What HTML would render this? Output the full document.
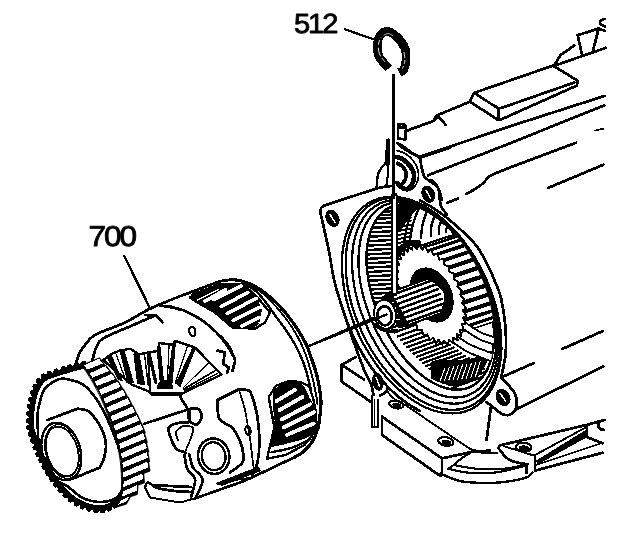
<!DOCTYPE html>
<html><head><meta charset="utf-8"><title>diagram</title>
<style>html,body{margin:0;padding:0;background:#fff}svg{display:block}text{font-family:"Liberation Sans",sans-serif;fill:#000}</style>
</head><body>
<svg width="640" height="538" viewBox="0 0 640 538" stroke-linecap="round" stroke-linejoin="round" shape-rendering="crispEdges">
<rect width="640" height="538" fill="#fff"/>
<g opacity="0.999" shape-rendering="geometricPrecision" text-rendering="geometricPrecision"><text x="0" y="0" font-size="26.5" stroke="#000" stroke-width="0.8" transform="translate(294.0,33.0) scale(1.1,1.045)" letter-spacing="-1.9">512</text>
<text x="0" y="0" font-size="27.5" stroke="#000" stroke-width="0.8" transform="translate(88.6,245.6) scale(1.15,1.045)" letter-spacing="-1.9">700</text></g>
<path d="M345.0 29.4 L373.0 39.0" fill="none" stroke="#000" stroke-width="2.28"/>
<path d="M124.5 256.3 L150.0 308.5" fill="none" stroke="#000" stroke-width="2.52"/>
<path d="M309.0 346.0 L380.0 315.0" fill="none" stroke="#000" stroke-width="2.40"/>
<path d="M393.3 75.0 L393.3 196.0" fill="none" stroke="#000" stroke-width="3.12"/>
<path d="M388.6 68.5 C387.7 67.4 384.7 64.2 383.0 62.0 C381.3 59.8 379.3 58.4 378.4 55.3 C377.5 52.2 377.4 46.8 377.6 43.6 C377.8 40.4 378.3 38.0 379.8 36.0 C381.3 34.0 383.9 31.3 386.7 31.4 C389.5 31.5 393.4 33.7 396.4 36.5 C399.4 39.3 403.3 44.2 404.9 48.2 C406.5 52.2 406.2 56.9 406.0 60.5 C405.8 64.1 404.6 68.0 403.5 70.0 C402.4 72.0 400.0 72.1 399.3 72.5" fill="none" stroke="#000" stroke-width="8.8" stroke-linecap="butt"/>
<path d="M385.0 62.0 C384.1 60.7 380.6 57.0 379.5 54.0 C378.4 51.0 378.2 46.8 378.5 44.0 C378.8 41.2 380.6 38.6 381.0 37.5" fill="none" stroke="#fff" stroke-width="0.9" stroke-dasharray="5 2 9 3" stroke-linecap="butt"/>
<path d="M404.0 52.0 C404.1 53.5 405.1 58.2 404.8 61.0 C404.6 63.8 402.9 67.2 402.5 68.5" fill="none" stroke="#fff" stroke-width="0.9" stroke-dasharray="6 2 4 2" stroke-linecap="butt"/>
<path d="M383.5 35.5 C384.2 35.2 386.4 33.5 388.0 33.5 C389.6 33.5 392.2 35.4 393.0 35.8" fill="none" stroke="#fff" stroke-width="0.7" stroke-linecap="butt"/>
<path d="M398.0 126.5 L398.0 138.5 L405.5 139.5 L406.0 127.5 Z" fill="none" stroke="#000" stroke-width="2.76" />
<path d="M406.1 126.7 L406.1 126.9 L406.0 127.0 L405.9 127.2 L405.8 127.3 L405.6 127.4 L405.4 127.5 L405.2 127.6 L405.0 127.7 L404.7 127.8 L404.4 127.8 L404.1 127.9 L403.8 127.9 L403.5 127.9 L403.1 127.9 L402.8 127.9 L402.4 127.9 L402.0 127.8 L401.7 127.8 L401.3 127.7 L401.0 127.6 L400.6 127.5 L400.3 127.4 L400.0 127.3 L399.7 127.2 L399.4 127.0 L399.1 126.9 L398.9 126.7 L398.6 126.6 L398.4 126.4 L398.3 126.3 L398.1 126.1 L398.0 125.9 L397.9 125.8 L397.9 125.6 L397.9 125.4 L397.9 125.3 L397.9 125.1 L398.0 125.0 L398.1 124.8 L398.2 124.7 L398.4 124.6 L398.6 124.5 L398.8 124.4 L399.0 124.3 L399.3 124.2 L399.6 124.2 L399.9 124.1 L400.2 124.1 L400.5 124.1 L400.9 124.1 L401.2 124.1 L401.6 124.1 L402.0 124.2 L402.3 124.2 L402.7 124.3 L403.0 124.4 L403.4 124.5 L403.7 124.6 L404.0 124.7 L404.3 124.8 L404.6 125.0 L404.9 125.1 L405.1 125.3 L405.4 125.4 L405.6 125.6 L405.7 125.7 L405.9 125.9 L406.0 126.1 L406.1 126.2 L406.1 126.4 L406.1 126.6 L406.1 126.7 Z" fill="none" stroke="#000" stroke-width="2.76" />
<path d="M407.0 130.6 L433.4 121.0 L436.5 115.6 L468.0 102.5" fill="none" stroke="#000" stroke-width="2.76" />
<path d="M433.4 121.0 L438.0 117.0 L442.0 120.0 L445.6 125.0" fill="none" stroke="#000" stroke-width="2.76" />
<path d="M469.7 101.6 L474.4 92.8 L553.0 65.6 L577.5 80.6 L577.0 85.5 L501.0 119.5 L497.8 119.7 L469.7 101.6" fill="none" stroke="#000" stroke-width="2.76" />
<path d="M474.4 92.8 L492.0 104.5 L499.0 108.5 L507.0 106.0 L574.4 82.5" fill="none" stroke="#000" stroke-width="2.76" />
<path d="M498.4 110.0 L498.4 118.5" fill="none" stroke="#000" stroke-width="2.76"/>
<path d="M553.7 66.0 L605.9 47.8" fill="none" stroke="#000" stroke-width="2.76" />
<path d="M554.7 64.7 L560.3 55.3 L574.4 45.4" fill="none" stroke="#000" stroke-width="2.76" />
<path d="M577.7 35.2 L581.9 54.4" fill="none" stroke="#000" stroke-width="2.76" />
<path d="M577.7 35.2 L598.7 28.5" fill="none" stroke="#000" stroke-width="2.76" />
<path d="M598.7 28.5 L593.0 50.6" fill="none" stroke="#000" stroke-width="2.76" />
<path d="M604.5 19.0 C603.9 19.2 601.7 19.7 601.0 20.5 C600.3 21.3 599.8 23.0 600.5 24.0 C601.2 25.0 604.2 26.1 605.0 26.5" fill="none" stroke="#000" stroke-width="2.76"/>
<path d="M600.0 29.0 L605.0 31.0" fill="none" stroke="#000" stroke-width="2.76"/>
<path d="M397.8 143.7 C399.2 144.8 402.4 147.8 406.0 150.0 C409.6 152.2 417.2 155.8 419.4 156.9" fill="none" stroke="#000" stroke-width="2.76"/>
<path d="M419.4 156.9 L514.0 125.0 L604.4 96.0" fill="none" stroke="#000" stroke-width="2.76" />
<path d="M428.0 175.3 L510.0 143.3 L604.4 105.3" fill="none" stroke="#000" stroke-width="2.76" />
<path d="M595.0 130.6 L603.4 128.7" fill="none" stroke="#000" stroke-width="1.68"/>
<path d="M466.2 194.0 C467.8 193.1 473.1 190.3 476.0 188.5 C478.9 186.7 481.4 184.8 483.4 183.0 C485.4 181.2 486.4 178.9 488.0 177.5 C489.6 176.1 489.3 176.2 493.0 174.5 C496.7 172.8 507.2 168.7 510.0 167.5" fill="none" stroke="#000" stroke-width="2.76"/>
<path d="M510.0 167.5 L576.0 142.8" fill="none" stroke="#000" stroke-width="2.76" />
<path d="M447.0 203.0 L458.0 198.6" fill="none" stroke="#000" stroke-width="2.76"/>
<path d="M548.0 188.0 L603.4 164.7" fill="none" stroke="#000" stroke-width="2.76" />
<path d="M562.2 349.0 L602.5 331.2" fill="none" stroke="#000" stroke-width="2.76" />
<path d="M504.0 376.2 L534.0 363.0" fill="none" stroke="#000" stroke-width="2.76" />
<path d="M515.5 409.5 L603.4 366.5" fill="none" stroke="#000" stroke-width="2.76" />
<path d="M386.6 165.0 L386.6 140.0 L388.6 139.0 L388.6 165.0" fill="none" stroke="#000" stroke-width="1.80" />
<path d="M470.7 409.3 L465.1 411.5 L459.1 412.9 L452.8 413.4 L446.3 413.2 L439.6 412.1 L432.7 410.2 L425.8 407.5 L418.9 404.0 L411.9 399.7 L405.1 394.8 L398.3 389.1 L391.8 382.8 L385.4 376.0 L379.4 368.6 L373.7 360.7 L368.3 352.3 L363.3 343.7 L358.8 334.7 L354.8 325.5 L351.3 316.1 L348.3 306.7 L345.8 297.3 L344.0 287.9 L342.7 278.6 L342.1 269.6 L342.0 260.8 L342.5 252.3 L343.7 244.3 L345.5 236.7 L347.8 229.6 L350.7 223.1 L354.1 217.3 L358.0 212.1 L362.5 207.6 L367.4 203.8 L372.7 200.9 L378.3 198.7 L384.3 197.3 L390.6 196.8 L397.1 197.0 L403.8 198.1 L410.7 200.0 L417.6 202.7 L424.5 206.2 L431.5 210.5 L438.3 215.4 L445.1 221.1 L451.6 227.4 L458.0 234.2 L464.0 241.6 L469.7 249.5 L475.1 257.9 L480.1 266.5 L484.6 275.5 L488.6 284.7 L492.1 294.1 L495.1 303.5 L497.6 312.9 L499.4 322.3 L500.7 331.6 L501.3 340.6 L501.4 349.4 L500.9 357.9 L499.7 365.9 L497.9 373.5 L495.6 380.6 L492.7 387.1 L489.3 392.9 L485.4 398.1 L480.9 402.6 L476.0 406.4 L470.7 409.3 Z" fill="none" stroke="#000" stroke-width="2.28" />
<path d="M470.6 406.0 L465.1 408.1 L459.3 409.4 L453.2 409.9 L446.9 409.6 L440.4 408.5 L433.7 406.5 L427.0 403.8 L420.3 400.4 L413.5 396.2 L406.9 391.3 L400.3 385.7 L394.0 379.6 L387.8 372.8 L382.0 365.5 L376.4 357.8 L371.2 349.6 L366.4 341.1 L362.0 332.3 L358.1 323.3 L354.7 314.2 L351.8 304.9 L349.4 295.7 L347.6 286.5 L346.4 277.5 L345.7 268.6 L345.7 260.0 L346.2 251.8 L347.3 243.9 L349.0 236.5 L351.3 229.7 L354.1 223.4 L357.4 217.7 L361.2 212.6 L365.5 208.3 L370.3 204.6 L375.4 201.8 L380.9 199.7 L386.7 198.4 L392.8 197.9 L399.1 198.2 L405.6 199.3 L412.3 201.3 L419.0 204.0 L425.7 207.4 L432.4 211.6 L439.1 216.5 L445.6 222.1 L452.0 228.2 L458.1 235.0 L464.0 242.3 L469.6 250.0 L474.8 258.2 L479.6 266.7 L484.0 275.5 L487.9 284.5 L491.3 293.6 L494.2 302.9 L496.6 312.1 L498.4 321.3 L499.6 330.3 L500.2 339.2 L500.3 347.8 L499.8 356.0 L498.6 363.9 L496.9 371.3 L494.7 378.1 L491.9 384.4 L488.6 390.1 L484.7 395.2 L480.5 399.5 L475.7 403.2 L470.6 406.0 Z" fill="none" stroke="#000" stroke-width="2.28" />
<path d="M470.3 400.2 L465.1 402.2 L459.6 403.3 L453.9 403.7 L447.9 403.3 L441.8 402.2 L435.5 400.3 L429.1 397.6 L422.7 394.2 L416.4 390.1 L410.1 385.3 L403.9 379.9 L397.9 373.9 L392.1 367.4 L386.5 360.3 L381.2 352.8 L376.3 344.9 L371.8 336.7 L367.6 328.2 L363.9 319.6 L360.6 310.7 L357.9 301.9 L355.6 293.0 L353.9 284.2 L352.8 275.5 L352.1 267.0 L352.1 258.8 L352.6 250.9 L353.6 243.4 L355.2 236.3 L357.3 229.8 L360.0 223.8 L363.1 218.4 L366.7 213.6 L370.8 209.5 L375.3 206.1 L380.1 203.4 L385.3 201.5 L390.8 200.3 L396.6 199.9 L402.5 200.3 L408.7 201.5 L415.0 203.4 L421.3 206.0 L427.7 209.4 L434.1 213.5 L440.4 218.3 L446.6 223.7 L452.6 229.7 L458.4 236.3 L463.9 243.3 L469.2 250.8 L474.1 258.7 L478.7 266.9 L482.9 275.4 L486.6 284.1 L489.8 292.9 L492.6 301.8 L494.8 310.7 L496.5 319.5 L497.7 328.2 L498.3 336.6 L498.4 344.9 L497.9 352.7 L496.8 360.2 L495.2 367.3 L493.1 373.8 L490.5 379.9 L487.3 385.3 L483.7 390.1 L479.7 394.2 L475.2 397.6 L470.3 400.2 Z" fill="none" stroke="#000" stroke-width="2.28" />
<path d="M470.1 394.4 L465.3 396.2 L460.1 397.3 L454.6 397.5 L449.0 397.1 L443.2 395.9 L437.3 394.0 L431.3 391.3 L425.3 388.0 L419.3 384.0 L413.3 379.3 L407.5 374.1 L401.8 368.3 L396.3 361.9 L391.1 355.1 L386.1 347.9 L381.4 340.3 L377.1 332.4 L373.2 324.2 L369.7 315.8 L366.6 307.4 L364.0 298.9 L361.9 290.3 L360.2 281.9 L359.1 273.6 L358.5 265.5 L358.5 257.6 L358.9 250.1 L359.9 242.9 L361.4 236.2 L363.4 230.0 L365.8 224.2 L368.8 219.1 L372.2 214.6 L376.0 210.7 L380.2 207.5 L384.8 205.0 L389.7 203.3 L394.8 202.2 L400.3 201.9 L405.9 202.4 L411.7 203.6 L417.6 205.5 L423.6 208.1 L429.6 211.5 L435.6 215.5 L441.6 220.1 L447.4 225.4 L453.1 231.2 L458.6 237.6 L463.9 244.4 L468.8 251.6 L473.5 259.2 L477.8 267.1 L481.7 275.3 L485.2 283.6 L488.3 292.1 L490.9 300.6 L493.0 309.1 L494.7 317.6 L495.8 325.9 L496.4 334.0 L496.5 341.9 L496.0 349.4 L495.0 356.6 L493.5 363.3 L491.6 369.5 L489.1 375.2 L486.1 380.4 L482.7 384.9 L478.9 388.8 L474.7 392.0 L470.1 394.4 Z" fill="none" stroke="#000" stroke-width="2.28" />
<path d="M470.0 387.0 L465.5 388.6 L460.7 389.5 L455.7 389.7 L450.5 389.2 L445.1 387.9 L439.7 386.0 L434.1 383.4 L428.6 380.2 L423.0 376.3 L417.5 371.8 L412.1 366.7 L406.9 361.2 L401.8 355.1 L396.9 348.6 L392.3 341.7 L388.0 334.4 L384.0 326.9 L380.3 319.1 L377.1 311.2 L374.2 303.2 L371.8 295.1 L369.8 287.0 L368.3 279.1 L367.2 271.2 L366.6 263.6 L366.5 256.2 L366.9 249.1 L367.8 242.4 L369.2 236.1 L371.0 230.2 L373.2 224.9 L375.9 220.1 L379.1 215.9 L382.6 212.4 L386.4 209.4 L390.6 207.2 L395.1 205.6 L399.9 204.7 L404.9 204.5 L410.1 205.0 L415.5 206.3 L420.9 208.2 L426.5 210.8 L432.0 214.0 L437.6 217.9 L443.1 222.4 L448.5 227.5 L453.7 233.0 L458.8 239.1 L463.7 245.6 L468.3 252.5 L472.6 259.8 L476.6 267.3 L480.3 275.1 L483.5 283.0 L486.4 291.0 L488.8 299.1 L490.8 307.2 L492.3 315.1 L493.4 323.0 L494.0 330.6 L494.1 338.0 L493.7 345.1 L492.8 351.8 L491.4 358.1 L489.6 364.0 L487.4 369.3 L484.7 374.1 L481.5 378.3 L478.0 381.8 L474.2 384.8 L470.0 387.0 Z" fill="none" stroke="#000" stroke-width="2.52" />
<path d="M420.0 200.4 C423.1 202.3 432.4 207.2 438.6 211.6 C444.8 215.9 451.0 220.9 457.2 226.5 C463.4 232.1 470.8 238.8 475.8 245.0 C480.8 251.2 483.9 257.8 487.0 263.6 C490.1 269.4 492.0 274.3 494.3 280.0 C496.6 285.7 499.2 290.3 501.0 297.9 C502.8 305.5 504.5 316.4 505.3 325.7 C506.1 335.0 506.3 344.9 505.6 353.6 C504.9 362.3 501.8 373.9 501.0 378.0" fill="none" stroke="#000" stroke-width="2.76"/>
<path d="M419.7 410.7 L418.5 410.1 L417.3 409.5 L416.2 408.9 L415.0 408.2 L413.8 407.5 L412.6 406.8 L411.4 406.1 L410.2 405.3 L409.0 404.6 L407.9 403.8 L406.7 403.0 L405.5 402.1 L404.3 401.3 L403.2 400.4 L402.0 399.5 L400.8 398.6 L399.7 397.7 L398.5 396.8 L397.4 395.8 L396.2 394.8 L395.1 393.8 L394.0 392.8 L392.8 391.8 L391.7 390.7 L390.6 389.7 L389.5 388.6 L388.4 387.5 L387.3 386.4 L386.2 385.2 L385.1 384.1 L384.0 382.9 L382.9 381.8 L381.9 380.6 L380.8 379.4 L379.8 378.1 L378.7 376.9 L377.7 375.6 L376.7 374.4 L375.7 373.1 L374.6 371.8 L373.6 370.5 L372.7 369.2 L371.7 367.8 L370.7 366.5 L369.8 365.1 L368.8 363.7 L367.9 362.4 L367.0 361.0 L366.0 359.6 L365.1 358.2 L364.2 356.7 L363.4 355.3 L362.5 353.8 L361.6 352.4 L360.8 350.9 L359.9 349.4 L359.1 348.0 L358.3 346.5 L357.5 345.0 L356.7 343.5 L356.0 342.0 L355.2 340.4 L354.5 338.9 L353.7 337.4 L353.0 335.8 L352.3 334.3 L351.6 332.7 L350.9 331.2 L350.3 329.6 L349.6 328.0 L349.0 326.5 L348.4 324.9" fill="none" stroke="#000" stroke-width="2.76" />
<path d="M392.0 186.0 C391.0 186.1 388.6 186.2 386.0 186.6 C383.4 187.0 378.1 188.2 376.5 188.5" fill="none" stroke="#000" stroke-width="2.76"/>
<path d="M376.5 188.5 L324.8 205.3" fill="none" stroke="#000" stroke-width="2.76" />
<path d="M324.8 205.3 C324.2 205.7 321.9 206.5 321.2 207.8 C320.5 209.1 320.6 212.1 320.5 213.0" fill="none" stroke="#000" stroke-width="2.76"/>
<path d="M320.5 213.0 C321.9 219.2 326.4 238.6 328.7 250.0 C331.0 261.4 332.1 271.6 334.5 281.6 C336.9 291.6 340.6 302.3 343.0 310.0 C345.4 317.7 346.7 321.3 349.0 328.0 C351.3 334.7 353.9 342.7 356.6 350.0 C359.3 357.3 362.6 366.3 365.0 372.0 C367.4 377.7 369.6 380.2 371.0 384.0 C372.4 387.8 373.1 393.2 373.5 395.0" fill="none" stroke="#000" stroke-width="2.76"/>
<path d="M376.5 188.5 C376.6 187.1 376.9 182.6 377.2 180.0 C377.5 177.4 377.7 175.2 378.5 173.0 C379.3 170.8 380.8 168.7 382.0 167.0 C383.2 165.3 384.7 165.8 385.5 163.0 C386.3 160.2 386.4 152.2 386.6 150.0" fill="none" stroke="#000" stroke-width="2.40"/>
<path d="M388.5 163.0 C388.4 165.0 388.2 171.1 387.8 175.0 C387.4 178.9 386.6 184.6 386.3 186.5" fill="none" stroke="#000" stroke-width="2.16"/>
<path d="M431.0 180.0 C431.8 180.7 434.2 182.4 435.5 184.0 C436.8 185.6 437.9 187.1 438.6 189.3 C439.3 191.5 439.3 194.6 439.6 197.0 C439.9 199.4 439.8 201.9 440.4 204.0 C441.0 206.1 441.9 207.8 443.0 209.5 C444.1 211.2 446.3 213.7 447.0 214.5" fill="none" stroke="#000" stroke-width="2.76"/>
<path d="M501.0 378.0 C502.2 379.1 505.7 382.1 508.0 384.7 C510.3 387.3 513.3 390.5 514.8 393.4 C516.3 396.3 516.7 399.3 516.8 402.0 C516.9 404.7 516.7 407.4 515.5 409.5 C514.3 411.6 511.6 414.1 509.4 414.8 C507.1 415.6 504.2 414.9 502.0 414.0 C499.8 413.1 498.0 411.0 496.0 409.5 C494.0 408.0 491.7 406.1 490.0 404.8 C488.3 403.6 486.7 402.5 486.0 402.0" fill="none" stroke="#000" stroke-width="2.76"/>
<path d="M385.0 383.7 C385.4 384.2 387.2 385.9 387.5 387.0 C387.8 388.1 387.6 389.4 387.0 390.5 C386.4 391.6 385.2 392.7 384.0 393.5 C382.8 394.3 380.7 395.2 380.0 395.5" fill="none" stroke="#000" stroke-width="2.76"/>
<path d="M335.9 226.1 L334.9 226.4 L333.8 226.4 L332.7 226.3 L331.6 225.8 L330.5 225.2 L329.5 224.4 L328.5 223.3 L327.7 222.1 L327.0 220.8 L326.5 219.5 L326.2 218.1 L326.0 216.7 L326.1 215.3 L326.4 214.1 L326.8 213.0 L327.4 212.0 L328.2 211.3 L329.1 210.7 L330.1 210.4 L331.2 210.4 L332.3 210.5 L333.4 211.0 L334.5 211.6 L335.5 212.4 L336.5 213.5 L337.3 214.7 L338.0 216.0 L338.5 217.3 L338.8 218.7 L339.0 220.1 L338.9 221.5 L338.6 222.7 L338.2 223.8 L337.6 224.8 L336.8 225.5 L335.9 226.1 Z" fill="#000" stroke="#000" stroke-width="1.20" />
<path d="M329.7 214.0 L335.3 222.8" fill="none" stroke="#fff" stroke-width="1.5" stroke-linecap="butt"/>
<path d="M431.4 201.8 L430.4 202.1 L429.3 202.1 L428.2 201.9 L427.1 201.5 L426.0 200.8 L425.0 199.9 L424.1 198.9 L423.4 197.7 L422.7 196.4 L422.3 195.1 L422.0 193.7 L421.9 192.3 L422.1 191.0 L422.4 189.8 L422.9 188.7 L423.5 187.8 L424.3 187.1 L425.2 186.6 L426.2 186.3 L427.3 186.3 L428.4 186.5 L429.5 186.9 L430.6 187.6 L431.6 188.5 L432.5 189.5 L433.2 190.7 L433.9 192.0 L434.3 193.3 L434.6 194.7 L434.7 196.1 L434.5 197.4 L434.2 198.6 L433.7 199.7 L433.1 200.6 L432.3 201.3 L431.4 201.8 Z" fill="#000" stroke="#000" stroke-width="1.20" />
<path d="M425.8 189.8 L430.8 198.6" fill="none" stroke="#fff" stroke-width="1.5" stroke-linecap="butt"/>
<path d="M506.9 404.8 L505.9 405.2 L504.8 405.4 L503.6 405.3 L502.4 405.0 L501.2 404.5 L500.1 403.7 L499.0 402.8 L498.1 401.6 L497.3 400.4 L496.8 399.1 L496.3 397.7 L496.1 396.3 L496.1 394.9 L496.3 393.6 L496.8 392.5 L497.4 391.5 L498.1 390.6 L499.1 390.0 L500.1 389.6 L501.2 389.4 L502.4 389.5 L503.6 389.8 L504.8 390.3 L505.9 391.1 L507.0 392.0 L507.9 393.2 L508.7 394.4 L509.2 395.7 L509.7 397.1 L509.9 398.5 L509.9 399.9 L509.7 401.2 L509.2 402.3 L508.6 403.3 L507.9 404.2 L506.9 404.8 Z" fill="#000" stroke="#000" stroke-width="1.20" />
<path d="M499.9 393.2 L506.1 401.6" fill="none" stroke="#fff" stroke-width="1.5" stroke-linecap="butt"/>
<path d="M379.5 390.0 L378.7 390.1 L377.8 389.9 L376.9 389.4 L376.0 388.8 L375.2 387.9 L374.4 386.8 L373.8 385.6 L373.3 384.3 L372.9 382.8 L372.7 381.4 L372.6 380.0 L372.7 378.6 L372.9 377.3 L373.3 376.2 L373.8 375.2 L374.5 374.4 L375.2 373.9 L376.1 373.6 L376.9 373.5 L377.8 373.7 L378.7 374.2 L379.6 374.8 L380.4 375.7 L381.2 376.8 L381.8 378.0 L382.3 379.3 L382.7 380.8 L382.9 382.2 L383.0 383.6 L382.9 385.0 L382.7 386.3 L382.3 387.4 L381.8 388.4 L381.1 389.2 L380.4 389.7 L379.5 390.0 Z" fill="#000" stroke="#000" stroke-width="1.20" />
<path d="M376.0 376.9 L379.6 386.7" fill="none" stroke="#fff" stroke-width="1.5" stroke-linecap="butt"/>
<defs><clipPath id="cT"><path d="M470.0 387.0 L465.5 388.6 L460.7 389.5 L455.7 389.7 L450.5 389.2 L445.1 387.9 L439.7 386.0 L434.1 383.4 L428.6 380.2 L423.0 376.3 L417.5 371.8 L412.1 366.7 L406.9 361.2 L401.8 355.1 L396.9 348.6 L392.3 341.7 L388.0 334.4 L384.0 326.9 L380.3 319.1 L377.1 311.2 L374.2 303.2 L371.8 295.1 L369.8 287.0 L368.3 279.1 L367.2 271.2 L366.6 263.6 L366.5 256.2 L366.9 249.1 L367.8 242.4 L369.2 236.1 L371.0 230.2 L373.2 224.9 L375.9 220.1 L379.1 215.9 L382.6 212.4 L386.4 209.4 L390.6 207.2 L395.1 205.6 L399.9 204.7 L404.9 204.5 L410.1 205.0 L415.5 206.3 L420.9 208.2 L426.5 210.8 L432.0 214.0 L437.6 217.9 L443.1 222.4 L448.5 227.5 L453.7 233.0 L458.8 239.1 L463.7 245.6 L468.3 252.5 L472.6 259.8 L476.6 267.3 L480.3 275.1 L483.5 283.0 L486.4 291.0 L488.8 299.1 L490.8 307.2 L492.3 315.1 L493.4 323.0 L494.0 330.6 L494.1 338.0 L493.7 345.1 L492.8 351.8 L491.4 358.1 L489.6 364.0 L487.4 369.3 L484.7 374.1 L481.5 378.3 L478.0 381.8 L474.2 384.8 L470.0 387.0 Z"/></clipPath></defs>
<g clip-path="url(#cT)">
<path d="M360.0 206.0 L392.0 204.4" fill="none" stroke="#000" stroke-width="2.40"/>
<path d="M360.0 209.4 L392.0 207.8" fill="none" stroke="#000" stroke-width="2.40"/>
<path d="M360.0 212.8 L392.0 211.2" fill="none" stroke="#000" stroke-width="2.40"/>
<path d="M360.0 216.2 L392.0 214.6" fill="none" stroke="#000" stroke-width="2.40"/>
<path d="M360.0 219.6 L392.0 218.0" fill="none" stroke="#000" stroke-width="2.40"/>
<path d="M360.0 224.0 L392.0 222.4" fill="none" stroke="#000" stroke-width="2.40"/>
<path d="M360.0 228.4 L392.0 226.8" fill="none" stroke="#000" stroke-width="2.40"/>
<path d="M360.0 232.8 L392.0 231.2" fill="none" stroke="#000" stroke-width="2.40"/>
<path d="M360.0 237.2 L392.0 235.6" fill="none" stroke="#000" stroke-width="2.40"/>
<path d="M360.0 241.6 L392.0 240.0" fill="none" stroke="#000" stroke-width="2.40"/>
<path d="M360.0 246.0 L392.0 244.4" fill="none" stroke="#000" stroke-width="2.40"/>
<path d="M360.0 250.4 L392.0 248.8" fill="none" stroke="#000" stroke-width="2.40"/>
<path d="M360.0 254.8 L392.0 253.2" fill="none" stroke="#000" stroke-width="2.40"/>
<path d="M360.0 259.2 L392.0 257.6" fill="none" stroke="#000" stroke-width="2.40"/>
<path d="M360.0 263.6 L392.0 262.0" fill="none" stroke="#000" stroke-width="2.40"/>
<path d="M360.0 268.0 L392.0 266.4" fill="none" stroke="#000" stroke-width="2.40"/>
<path d="M360.0 272.4 L392.0 270.8" fill="none" stroke="#000" stroke-width="2.40"/>
<path d="M360.0 276.8 L392.0 275.2" fill="none" stroke="#000" stroke-width="2.40"/>
<path d="M360.0 281.2 L392.0 279.6" fill="none" stroke="#000" stroke-width="2.40"/>
<path d="M360.0 285.6 L392.0 284.0" fill="none" stroke="#000" stroke-width="2.40"/>
<path d="M360.0 290.0 L392.0 288.4" fill="none" stroke="#000" stroke-width="2.40"/>
<path d="M360.0 294.4 L392.0 292.8" fill="none" stroke="#000" stroke-width="2.40"/>
<path d="M360.0 298.8 L392.0 297.2" fill="none" stroke="#000" stroke-width="2.40"/>
<path d="M360.0 303.2 L392.0 301.6" fill="none" stroke="#000" stroke-width="2.40"/>
<path d="M397.5 205.3 L411.0 202.5" fill="none" stroke="#000" stroke-width="2.00"/>
<path d="M397.5 208.3 L411.0 205.5" fill="none" stroke="#000" stroke-width="2.00"/>
<path d="M397.5 211.3 L411.0 208.5" fill="none" stroke="#000" stroke-width="2.00"/>
<path d="M397.5 214.3 L411.0 211.5" fill="none" stroke="#000" stroke-width="2.00"/>
<path d="M397.5 217.3 L411.0 214.5" fill="none" stroke="#000" stroke-width="2.00"/>
<path d="M397.5 220.3 L411.0 217.5" fill="none" stroke="#000" stroke-width="2.00"/>
<path d="M397.5 223.3 L411.0 220.5" fill="none" stroke="#000" stroke-width="2.00"/>
<path d="M397.5 227.3 L411.0 224.5" fill="none" stroke="#000" stroke-width="2.00"/>
<path d="M397.5 231.3 L411.0 228.5" fill="none" stroke="#000" stroke-width="2.00"/>
<path d="M397.5 235.3 L411.0 232.5" fill="none" stroke="#000" stroke-width="2.00"/>
<path d="M397.5 239.3 L411.0 236.5" fill="none" stroke="#000" stroke-width="2.00"/>
<path d="M397.5 243.3 L411.0 240.5" fill="none" stroke="#000" stroke-width="2.00"/>
<path d="M397.5 247.3 L411.0 244.5" fill="none" stroke="#000" stroke-width="2.00"/>
<path d="M397.0 201.0 L419.0 206.5 L408.0 218.0 L402.0 228.0 L397.0 233.0 Z" fill="#000" stroke="#000" stroke-width="1.20" />
<path d="M414.0 206.0 C412.9 209.1 409.2 218.3 407.5 224.5 C405.8 230.7 404.6 239.9 404.0 243.0" fill="none" stroke="#000" stroke-width="2.40"/>
<path d="M419.0 208.0 C418.0 210.7 414.5 218.7 413.0 224.0 C411.5 229.3 410.5 237.3 410.0 240.0" fill="none" stroke="#000" stroke-width="2.40"/>
<path d="M427.0 211.0 C426.2 213.2 423.5 220.0 422.5 224.5 C421.5 229.0 421.2 235.8 421.0 238.0" fill="none" stroke="#000" stroke-width="2.40"/>
<path d="M435.0 215.0 C434.4 216.8 432.2 222.0 431.5 225.5 C430.8 229.0 431.1 234.2 431.0 236.0" fill="none" stroke="#000" stroke-width="2.40"/>
<path d="M442.0 220.0 C441.5 221.2 439.5 224.7 439.0 227.0 C438.5 229.3 439.0 232.8 439.0 234.0" fill="none" stroke="#000" stroke-width="2.40"/>
<path d="M449.0 226.0 C448.5 226.5 446.5 228.0 446.0 229.0 C445.5 230.0 446.0 231.5 446.0 232.0" fill="none" stroke="#000" stroke-width="2.40"/>
<path d="M388.0 322.0 L416.2 311.7" fill="none" stroke="#000" stroke-width="2.30"/>
<path d="M391.2 328.0 L420.0 317.5" fill="none" stroke="#000" stroke-width="2.30"/>
<path d="M394.4 332.5 L423.7 321.8" fill="none" stroke="#000" stroke-width="2.30"/>
<path d="M397.6 336.5 L427.5 325.6" fill="none" stroke="#000" stroke-width="2.30"/>
<path d="M400.8 340.2 L431.3 329.1" fill="none" stroke="#000" stroke-width="2.30"/>
<path d="M404.0 343.8 L435.0 332.5" fill="none" stroke="#000" stroke-width="2.30"/>
<path d="M407.2 347.2 L438.8 335.7" fill="none" stroke="#000" stroke-width="2.30"/>
<path d="M410.4 350.5 L442.5 338.8" fill="none" stroke="#000" stroke-width="2.30"/>
<path d="M413.6 353.7 L446.3 341.8" fill="none" stroke="#000" stroke-width="2.30"/>
<path d="M416.8 356.8 L450.1 344.7" fill="none" stroke="#000" stroke-width="2.30"/>
<path d="M420.0 359.9 L453.8 347.6" fill="none" stroke="#000" stroke-width="2.30"/>
<path d="M423.2 362.9 L457.6 350.4" fill="none" stroke="#000" stroke-width="2.30"/>
<path d="M426.4 365.9 L461.4 353.1" fill="none" stroke="#000" stroke-width="2.30"/>
<path d="M429.6 368.8 L465.1 355.8" fill="none" stroke="#000" stroke-width="2.30"/>
<path d="M432.8 371.6 L468.9 358.5" fill="none" stroke="#000" stroke-width="2.30"/>
<path d="M436.0 374.4 L472.7 361.1" fill="none" stroke="#000" stroke-width="2.30"/>
<path d="M439.2 377.2 L476.4 363.7" fill="none" stroke="#000" stroke-width="2.30"/>
<path d="M442.4 380.0 L480.2 366.2" fill="none" stroke="#000" stroke-width="2.30"/>
<path d="M445.6 382.7 L484.0 368.7" fill="none" stroke="#000" stroke-width="2.30"/>
<path d="M448.8 385.3 L487.7 371.2" fill="none" stroke="#000" stroke-width="2.30"/>
<path d="M452.0 388.0 L491.5 373.6" fill="none" stroke="#000" stroke-width="2.30"/>
<path d="M489.2 351.7 L487.7 357.5 L485.8 362.9 L483.5 367.7 L480.8 372.0 L477.7 375.8 L474.2 378.9 L470.4 381.5 L466.3 383.4 L461.9 384.6 L457.3 385.2 L452.4 385.1 L447.4 384.3 L442.3 382.9 L437.1 380.8 L431.8 378.1 L432.0 362.0 L440.0 360.0 L452.0 361.0 L466.0 360.5 L480.0 357.0 L493.0 352.0 Z" fill="#000" stroke="#000" stroke-width="1.20" />
<path d="M440.0 381.0 L445.0 368.0" fill="none" stroke="#fff" stroke-width="1.08"/>
<path d="M444.4 380.5 L449.4 367.2" fill="none" stroke="#fff" stroke-width="1.08"/>
<path d="M448.8 380.0 L453.8 366.4" fill="none" stroke="#fff" stroke-width="1.08"/>
<path d="M453.2 379.5 L458.2 365.6" fill="none" stroke="#fff" stroke-width="1.08"/>
<path d="M457.6 379.0 L462.6 364.8" fill="none" stroke="#fff" stroke-width="1.08"/>
<path d="M462.0 378.5 L467.0 364.0" fill="none" stroke="#fff" stroke-width="1.08"/>
<path d="M466.4 378.0 L471.4 363.2" fill="none" stroke="#fff" stroke-width="1.08"/>
<path d="M470.8 377.5 L475.8 362.4" fill="none" stroke="#fff" stroke-width="1.08"/>
<path d="M475.2 377.0 L480.2 361.6" fill="none" stroke="#fff" stroke-width="1.08"/>
<path d="M393.5 271.0 L393.7 267.8 L394.1 264.8 L394.7 261.9 L395.4 259.1 L396.3 256.6 L397.4 254.2 L398.7 252.0 L400.1 250.0 L401.6 248.3 L403.3 246.8 L405.1 245.5 L407.0 244.4 L409.1 243.6 L411.3 243.0 L413.5 242.7 L415.9 242.7 L418.3 242.9" fill="none" stroke="#000" stroke-width="6.00" />
<path d="M407.6 250.3 L410.3 249.0 L413.2 248.1 L416.2 247.8 L419.5 248.0 L422.8 248.7 L426.3 249.9 L429.8 251.6 L433.2 253.7 L436.7 256.3 L440.1 259.4 L443.4 262.8 L446.5 266.6 L449.5 270.6 L452.3 275.0 L454.8 279.5 L457.1 284.2 L459.0 289.1 L460.7 294.0 L462.0 298.9 L463.0 303.7 L463.6 308.5 L463.9 313.1 L463.8 317.5 L463.3 321.7 L462.5 325.5 L461.3 329.1 L459.8 332.2 L507.3 316.7 L508.8 313.6 L510.0 310.0 L510.8 306.2 L511.3 302.0 L511.4 297.6 L511.1 293.0 L510.5 288.2 L509.5 283.4 L508.2 278.5 L506.5 273.6 L504.6 268.7 L502.3 264.0 L499.8 259.5 L497.0 255.1 L494.0 251.1 L490.9 247.3 L487.6 243.9 L484.2 240.8 L480.7 238.2 L477.3 236.1 L473.8 234.4 L470.3 233.2 L467.0 232.5 L463.7 232.3 L460.7 232.6 L457.8 233.5 L455.1 234.8 Z" fill="#000" stroke="#000" stroke-width="2.76" />
<path d="M408.0 250.1 L455.5 234.6 L460.6 232.7 L413.1 248.2 Z" fill="#fff" stroke="#000" stroke-width="1.44" />
<path d="M415.4 247.9 L462.9 232.4 L467.6 232.6 L420.1 248.1 Z" fill="#fff" stroke="#000" stroke-width="1.44" />
<path d="M422.1 248.5 L469.6 233.0 L474.5 234.7 L427.0 250.2 Z" fill="#fff" stroke="#000" stroke-width="1.44" />
<path d="M429.1 251.2 L476.6 235.7 L481.4 238.7 L433.9 254.2 Z" fill="#fff" stroke="#000" stroke-width="1.44" />
<path d="M436.0 255.8 L483.5 240.3 L488.1 244.4 L440.6 259.9 Z" fill="#fff" stroke="#000" stroke-width="1.44" />
<path d="M442.5 261.8 L490.0 246.3 L494.3 251.4 L446.8 266.9 Z" fill="#fff" stroke="#000" stroke-width="1.44" />
<path d="M448.5 269.2 L496.0 253.7 L499.7 259.3 L452.2 274.8 Z" fill="#fff" stroke="#000" stroke-width="1.44" />
<path d="M453.6 277.4 L501.1 261.9 L504.2 267.9 L456.7 283.4 Z" fill="#fff" stroke="#000" stroke-width="1.44" />
<path d="M457.8 286.1 L505.3 270.6 L507.7 276.9 L460.2 292.4 Z" fill="#fff" stroke="#000" stroke-width="1.44" />
<path d="M461.0 295.1 L508.5 279.6 L510.1 286.0 L462.6 301.5 Z" fill="#fff" stroke="#000" stroke-width="1.44" />
<path d="M463.1 304.3 L510.6 288.8 L511.3 295.1 L463.8 310.6 Z" fill="#fff" stroke="#000" stroke-width="1.44" />
<path d="M463.9 313.2 L511.4 297.7 L511.1 303.6 L463.6 319.1 Z" fill="#fff" stroke="#000" stroke-width="1.44" />
<path d="M463.3 321.5 L510.8 306.0 L509.6 311.2 L462.1 326.7 Z" fill="#fff" stroke="#000" stroke-width="1.44" />
<path d="M461.4 328.8 L508.9 313.3 L506.7 317.6 L459.2 333.1 Z" fill="#fff" stroke="#000" stroke-width="1.44" />
<path d="M455.0 338.0 C457.5 339.7 463.8 344.8 470.0 348.0 C476.2 351.2 488.3 355.5 492.0 357.0" fill="none" stroke="#fff" stroke-width="7.20"/>
<path d="M455.0 334.5 C457.5 336.2 463.5 341.2 470.0 344.5 C476.5 347.8 490.0 352.4 494.0 354.0" fill="none" stroke="#000" stroke-width="1.92"/>
<path d="M452.0 342.0 C454.7 343.7 461.7 348.8 468.0 352.0 C474.3 355.2 486.3 359.5 490.0 361.0" fill="none" stroke="#000" stroke-width="1.92"/>
<path d="M466.0 326.0 C468.7 327.7 476.3 333.3 482.0 336.0 C487.7 338.7 497.0 341.0 500.0 342.0" fill="none" stroke="#fff" stroke-width="6.00"/>
<path d="M466.0 323.0 C468.7 324.7 476.3 330.3 482.0 333.0 C487.7 335.7 497.0 338.0 500.0 339.0" fill="none" stroke="#000" stroke-width="1.92"/>
<path d="M464.0 329.5 C466.7 331.2 474.3 336.8 480.0 339.5 C485.7 342.2 495.0 344.5 498.0 345.5" fill="none" stroke="#000" stroke-width="1.92"/>
<path d="M453.2 343.4 L448.8 339.7 L448.0 344.9 L443.9 340.4 L442.3 344.9 L438.5 339.7 L436.3 343.4 L432.9 337.6 L430.1 340.3 L427.3 334.2 L423.8 335.9 L421.7 329.7 L417.8 330.3 L416.4 324.0 L412.2 323.5 L411.5 317.5 L407.1 315.9 L407.2 310.2 L402.7 307.6 L403.6 302.5 L399.2 299.0 L400.8 294.6 L396.6 290.2 L399.0 286.7 L395.1 281.6 L398.1 279.0 L394.6 273.3 L398.1 271.8 L395.3 265.7 L399.2 265.2 L396.9 259.0 L401.2 259.6 L399.7 253.4 L404.1 255.1 L403.3 249.0 L407.8 251.7 L407.8 246.0 L412.2 249.7 L413.0 244.5 L417.1 249.0 L418.7 244.5 L422.5 249.7 L424.7 246.0 L428.1 251.8 L430.9 249.1 L433.7 255.2 L437.2 253.5 L439.3 259.7 L443.2 259.1 L444.6 265.4 L448.8 265.9 L449.5 271.9 L453.9 273.5 L453.8 279.2 L458.3 281.8 L457.4 286.9 L461.8 290.4 L460.2 294.8 L464.4 299.2 L462.0 302.7 L465.9 307.8 L462.9 310.4 L466.4 316.1 L462.9 317.6 L465.7 323.7 L461.8 324.2 L464.1 330.4 L459.8 329.8 L461.3 336.0 L456.9 334.3 L457.7 340.4 L453.2 337.7 Z" fill="#fff" stroke="#000" stroke-width="1.92" />
<path d="M443.3 320.4 L441.7 321.0 L440.1 321.4 L438.4 321.6 L436.6 321.7 L434.8 321.5 L432.9 321.1 L431.1 320.5 L429.2 319.7 L427.4 318.8 L425.6 317.6 L423.8 316.3 L422.1 314.8 L420.5 313.2 L418.9 311.4 L417.5 309.5 L416.2 307.5 L414.9 305.4 L413.8 303.2 L412.9 301.0 L412.0 298.7 L411.4 296.4 L410.8 294.1 L410.5 291.7 L410.3 289.4 L410.2 287.2 L410.4 285.0 L410.6 282.9 L411.1 280.9 L411.7 278.9 L412.4 277.1 L413.3 275.5 L414.3 274.0 L415.5 272.6 L416.8 271.4 L418.2 270.4 L419.7 269.6 L421.3 269.0 L422.9 268.6 L424.6 268.4 L426.4 268.3 L428.2 268.5 L430.1 268.9 L431.9 269.5 L433.8 270.3 L435.6 271.2 L437.4 272.4 L439.2 273.7 L440.9 275.2 L442.5 276.8 L444.1 278.6 L445.5 280.5 L446.8 282.5 L448.1 284.6 L449.2 286.8 L450.1 289.0 L451.0 291.3 L451.6 293.6 L452.2 295.9 L452.5 298.3 L452.7 300.6 L452.8 302.8 L452.6 305.0 L452.4 307.1 L451.9 309.1 L451.3 311.1 L450.6 312.9 L449.7 314.5 L448.7 316.0 L447.5 317.4 L446.2 318.6 L444.8 319.6 L443.3 320.4 Z" fill="#000" stroke="#000" stroke-width="1.80" />
<path d="M386.6 293.7 L427.9 278.6 L437.0 283.2 L444.6 292.3 L444.6 304.1 L440.6 313.4 L404.9 326.4 Z" fill="#fff" stroke="#000" stroke-width="2.16" />
<path d="M391.4 295.2 L429.9 281.2" fill="none" stroke="#000" stroke-width="2.50"/>
<path d="M393.1 300.1 L436.4 284.3" fill="none" stroke="#000" stroke-width="2.50"/>
<path d="M394.9 304.9 L438.1 289.1" fill="none" stroke="#000" stroke-width="2.50"/>
<path d="M396.7 309.7 L439.9 294.0" fill="none" stroke="#000" stroke-width="2.50"/>
<path d="M398.4 314.5 L441.7 298.8" fill="none" stroke="#000" stroke-width="2.50"/>
<path d="M400.2 319.4 L443.4 303.6" fill="none" stroke="#000" stroke-width="2.50"/>
<path d="M401.9 324.2 L440.5 310.2" fill="none" stroke="#000" stroke-width="2.50"/>
<path d="M382.6 297.3 L390.2 291.9 L408.8 325.5 L398.9 327.5 Z" fill="#000" stroke="#000" stroke-width="1.80" />
<path d="M390.8 302.3 L393.5 302.4" fill="none" stroke="#fff" stroke-width="1.08"/>
<path d="M392.8 307.9 L395.5 308.0" fill="none" stroke="#fff" stroke-width="1.08"/>
<path d="M394.9 313.6 L397.6 313.6" fill="none" stroke="#fff" stroke-width="1.08"/>
<path d="M396.9 319.2 L399.6 319.3" fill="none" stroke="#fff" stroke-width="1.08"/>
</g>
<path d="M387.5 328.6 L385.8 328.7 L384.1 328.5 L382.4 327.9 L380.8 327.0 L379.3 325.7 L377.9 324.2 L376.7 322.5 L375.7 320.5 L374.9 318.4 L374.4 316.2 L374.1 313.9 L374.1 311.7 L374.4 309.5 L374.9 307.4 L375.7 305.5 L376.7 303.8 L377.9 302.4 L379.3 301.3 L380.8 300.5 L382.5 300.0 L384.2 299.9 L385.9 300.1 L387.6 300.7 L389.2 301.6 L390.7 302.9 L392.1 304.4 L393.3 306.1 L394.3 308.1 L395.1 310.2 L395.6 312.4 L395.9 314.7 L395.9 316.9 L395.6 319.1 L395.1 321.2 L394.3 323.1 L393.3 324.8 L392.1 326.2 L390.7 327.3 L389.2 328.1 L387.5 328.6 Z" fill="#fff" stroke="#000" stroke-width="1.80" />
<path d="M375 324.5 Q384 333.5 396.5 330.5" fill="none" stroke="#000" stroke-width="3.4"/>
<path d="M385.4 325.4 L384.3 325.3 L383.2 325.1 L382.1 324.6 L381.1 323.9 L380.1 323.0 L379.3 321.9 L378.6 320.7 L378.0 319.4 L377.6 317.9 L377.4 316.4 L377.4 314.9 L377.5 313.4 L377.8 312.0 L378.3 310.7 L378.9 309.5 L379.7 308.4 L380.6 307.6 L381.6 306.9 L382.7 306.5 L383.8 306.2 L384.9 306.3 L386.0 306.5 L387.1 307.0 L388.1 307.7 L389.1 308.6 L389.9 309.7 L390.6 310.9 L391.2 312.2 L391.6 313.7 L391.8 315.2 L391.8 316.7 L391.7 318.2 L391.4 319.6 L390.9 320.9 L390.3 322.1 L389.5 323.2 L388.6 324.0 L387.6 324.7 L386.5 325.1 L385.4 325.4 Z" fill="none" stroke="#000" stroke-width="2.64" />
<path d="M309.0 346.0 L386.4 314.6" fill="none" stroke="#000" stroke-width="2.40"/>
<path d="M394.3 196.0 L394.3 293.0" fill="none" stroke="#000" stroke-width="6.72"/>
<path d="M394.3 197.0 L394.3 292.0" fill="none" stroke="#fff" stroke-width="2.88"/>
<path d="M393.3 150.0 L393.3 198.0" fill="none" stroke="#000" stroke-width="3.12"/>
<path d="M86.0 362.9 L84.7 361.2 L83.8 361.4 L83.0 361.6 L82.1 361.8 L81.6 363.8 L80.7 364.0 L80.3 366.0 L79.0 364.4 L77.7 362.7 L76.8 362.9 L75.9 363.1 L75.1 363.3 L74.7 365.4 L73.8 365.6 L73.4 367.7 L72.1 366.1 L70.7 364.5 L69.8 364.8 L69.0 365.0 L68.1 365.3 L67.8 367.3 L67.0 367.6 L66.7 369.7 L65.3 368.1 L63.8 366.6 L63.0 366.9 L62.1 367.1 L61.3 367.4 L61.0 369.5 L60.2 369.8 L59.9 371.9 L58.5 370.4 L57.0 368.9 L56.1 369.2 L55.3 369.4 L54.4 369.7 L54.1 371.8 L53.2 372.0 L52.9 374.1 L51.5 372.5 L50.1 371.0 L49.3 371.3 L48.4 371.5 L47.6 371.9 L47.4 373.9 L46.7 374.3 L46.7 376.3 L45.2 375.0 L43.5 373.8 L42.7 374.3 L42.0 374.8 L41.3 375.3 L41.8 377.3 L41.2 377.9 L41.9 379.8 L40.0 379.1 L38.0 378.4 L37.4 379.1 L36.9 379.8 L36.3 380.5 L37.3 382.3 L36.9 383.0 L38.0 384.7 L36.0 384.5 L33.9 384.3 L33.5 385.1 L33.1 385.9 L32.7 386.7 L34.1 388.3 L33.7 389.1 L35.2 390.5 L33.1 390.7 L31.0 390.9 L30.8 391.7 L30.5 392.6 L30.3 393.5 L31.9 394.8 L31.6 395.7 L33.3 397.0 L31.2 397.4 L29.2 397.8 L29.0 398.7 L28.8 399.6 L28.6 400.5 L30.3 401.7 L30.2 402.6 L31.9 403.8 L29.9 404.3 L27.9 404.9 L27.7 405.8 L27.6 406.7 L27.5 407.6 L29.3 408.7 L29.2 409.6 L30.9 410.7 L29.0 411.4 L27.0 412.1 L26.9 413.0 L26.8 413.9 L26.8 414.8 L28.6 415.8 L28.5 416.7 L30.4 417.6 L28.5 418.4 L26.5 419.2 L26.5 420.1 L26.5 421.0 L26.5 421.9 L28.4 422.8 L28.4 423.7 L30.3 424.5 L28.4 425.4 L26.6 426.4 L26.7 427.3 L26.8 428.2 L27.0 429.1 L29.0 429.6 L29.2 430.4 L31.3 430.6 L29.7 432.0 L28.2 433.4 L28.5 434.3 L28.8 435.1 L29.1 436.0 L31.2 436.3 L31.4 437.1 L33.5 437.4 L32.0 438.8 L30.4 440.3 L30.7 441.1 L31.0 442.0 L31.3 442.8 L33.4 443.1 L33.7 443.9 L35.7 444.1 L34.3 445.6 L32.8 447.1 L33.1 447.9 L33.4 448.8 L33.8 449.6 L35.9 449.7 L36.2 450.5 L38.3 450.6 L36.9 452.1 L35.5 453.7 L35.9 454.6 L36.3 455.4 L36.7 456.2 L38.8 456.2 L39.1 457.0 L41.2 457.0 L39.9 458.6 L38.6 460.3 L39.0 461.1 L39.4 461.9 L39.8 462.7 L41.9 462.6 L42.3 463.4 L44.4 463.3 L43.2 465.0 L41.9 466.6 L42.3 467.4 L42.8 468.2 L43.2 469.0 L45.3 468.8 L45.8 469.6 L47.9 469.4 L46.7 471.1 L45.5 472.9 L46.0 473.6 L46.5 474.4 L46.9 475.2 L49.0 474.9 L49.5 475.7 L51.6 475.4 L50.4 477.2 L49.3 479.0 L49.8 479.7 L50.3 480.5 L50.8 481.2 L52.9 480.9 L53.4 481.6 L55.5 481.3 L54.4 483.1 L53.4 484.9 L54.0 485.6 L54.5 486.3 L55.1 487.1 L57.1 486.6 L57.6 487.2 L59.7 486.7 L58.8 488.6 L57.9 490.5 L58.5 491.2 L59.2 491.8 L59.8 492.5 L61.8 491.9 L62.4 492.5 L64.3 491.8 L63.6 493.8 L62.9 495.7 L63.5 496.4 L64.2 497.0 L64.8 497.6 L66.8 496.8 L67.4 497.4 L69.3 496.6 L68.7 498.6 L68.2 500.6 L68.9 501.1 L69.6 501.7 L70.3 502.2 L72.2 501.2 L72.9 501.7 L74.6 500.7 L74.3 502.7 L74.1 504.8 L74.8 505.2 L75.6 505.7 L76.4 506.1 L78.1 504.8 L78.8 505.2 L80.4 503.9 L80.4 506.0 L80.4 508.1 L81.3 508.4 L82.1 508.8 L82.9 509.1 L84.4 507.6 L85.3 507.9 L86.7 506.4 L86.9 508.5 L87.2 510.6 L88.0 510.9 L88.9 511.1 L89.8 511.4 L91.1 509.7 L92.0 510.0 L93.2 508.3 L93.7 510.3 L94.2 512.4 L95.1 512.5 L95.9 512.6 L96.8 512.7 L97.9 510.9 L98.7 510.9 L99.5 509.1 L100.4 510.9 L101.3 512.8 L102.2 512.7 L103.1 512.6 L104.0 512.4 L104.4 510.4 L105.3 510.2 L105.5 508.1 L106.9 509.7 L108.3 511.2 L109.2 510.9 L110.0 510.6 L110.9 510.2 L110.9 508.1 L111.6 507.8 L111.4 505.7 L113.1 507.0 L114.8 508.1 L115.6 507.7 L116.4 507.2 L117.1 506.7 L116.8 504.6 L117.5 504.1 L117.1 502.0 L118.9 503.1 L120.8 504.1 L121.5 503.6 L122.2 503.0 L123.0 502.5 L122.6 500.4 L123.3 499.9 L122.9 497.8 L124.7 498.8 L126.6 499.8 L127.3 499.3 L128.0 498.7 L128.7 498.2 L128.2 496.1 L128.9 495.6 L128.4 493.5 L130.3 494.4 L132.2 495.3 L132.8 494.7 L133.5 494.1 L134.2 493.5 L133.7 491.5 L134.3 490.9 L131.2 487.2 L130.5 487.8 L129.8 488.4 L129.1 489.0 L128.4 489.5 L127.7 490.1 L127.1 490.7 L126.4 491.2 L125.8 491.8 L125.1 492.3 L124.4 492.9 L123.8 493.4 L123.1 493.9 L122.5 494.4 L121.8 494.9 L121.1 495.4 L120.4 495.9 L119.7 496.5 L118.9 497.0 L118.2 497.5 L117.5 498.1 L116.8 498.6 L116.1 499.1 L115.4 499.6 L114.7 500.1 L114.0 500.6 L113.3 501.0 L112.6 501.5 L112.0 501.9 L111.3 502.3 L110.6 502.7 L110.0 503.1 L109.4 503.4 L108.8 503.7 L108.1 504.0 L107.5 504.3 L106.8 504.5 L106.1 504.8 L105.4 505.0 L104.7 505.2 L104.0 505.4 L103.3 505.6 L102.7 505.7 L102.1 505.9 L101.4 505.9 L100.8 506.0 L100.2 506.1 L99.5 506.1 L98.8 506.0 L98.2 506.0 L97.5 506.0 L96.8 505.9 L96.1 505.8 L95.4 505.7 L94.6 505.5 L93.9 505.4 L93.1 505.2 L92.3 505.0 L91.6 504.8 L90.8 504.6 L90.0 504.4 L89.2 504.1 L88.5 503.9 L87.7 503.6 L86.9 503.3 L86.2 503.1 L85.4 502.8 L84.7 502.5 L83.9 502.2 L83.2 501.8 L82.4 501.5 L81.7 501.2 L81.0 500.8 L80.3 500.5 L79.6 500.1 L78.9 499.8 L78.3 499.4 L77.6 499.0 L77.0 498.6 L76.3 498.2 L75.7 497.7 L75.0 497.3 L74.4 496.8 L73.8 496.3 L73.2 495.8 L72.5 495.3 L71.9 494.8 L71.3 494.3 L70.7 493.7 L70.1 493.2 L69.5 492.6 L68.9 492.1 L68.3 491.5 L67.7 490.9 L67.1 490.3 L66.5 489.7 L65.9 489.1 L65.3 488.5 L64.8 487.9 L64.2 487.3 L63.6 486.6 L63.0 486.0 L62.5 485.4 L61.9 484.7 L61.4 484.1 L60.9 483.5 L60.4 482.8 L59.9 482.2 L59.4 481.5 L58.9 480.9 L58.4 480.2 L57.9 479.5 L57.4 478.8 L56.9 478.1 L56.5 477.4 L56.0 476.7 L55.5 476.0 L55.0 475.3 L54.6 474.5 L54.1 473.8 L53.6 473.1 L53.2 472.3 L52.7 471.6 L52.3 470.9 L51.8 470.1 L51.3 469.3 L50.9 468.6 L50.4 467.8 L50.0 467.1 L49.6 466.3 L49.1 465.6 L48.7 464.9 L48.3 464.1 L47.9 463.4 L47.5 462.6 L47.1 461.9 L46.7 461.1 L46.3 460.3 L45.9 459.6 L45.5 458.8 L45.1 458.0 L44.7 457.3 L44.3 456.5 L43.9 455.7 L43.6 454.9 L43.2 454.1 L42.8 453.3 L42.5 452.5 L42.1 451.8 L41.8 451.0 L41.4 450.2 L41.1 449.4 L40.7 448.6 L40.4 447.8 L40.1 447.0 L39.8 446.3 L39.5 445.5 L39.2 444.7 L38.9 443.9 L38.6 443.1 L38.3 442.3 L38.0 441.5 L37.7 440.7 L37.4 439.8 L37.2 439.0 L36.9 438.2 L36.6 437.4 L36.4 436.5 L36.1 435.7 L35.8 434.8 L35.5 433.9 L35.2 432.9 L34.9 432.0 L34.6 431.2 L34.4 430.4 L34.1 429.7 L33.9 429.1 L33.8 428.4 L33.6 427.8 L33.5 427.2 L33.4 426.5 L33.4 425.9 L33.3 425.2 L33.3 424.4 L33.3 423.6 L33.3 422.8 L33.3 422.0 L33.3 421.2 L33.3 420.3 L33.3 419.5 L33.3 418.6 L33.4 417.8 L33.4 416.9 L33.5 416.1 L33.5 415.2 L33.6 414.4 L33.7 413.5 L33.8 412.7 L33.8 411.8 L33.9 411.0 L34.0 410.1 L34.1 409.3 L34.2 408.5 L34.3 407.6 L34.4 406.8 L34.6 406.0 L34.7 405.1 L34.8 404.3 L35.0 403.5 L35.2 402.6 L35.3 401.8 L35.5 400.9 L35.6 400.1 L35.8 399.3 L36.0 398.5 L36.2 397.7 L36.4 396.9 L36.6 396.1 L36.8 395.3 L37.0 394.5 L37.3 393.8 L37.5 393.0 L37.7 392.3 L38.0 391.6 L38.3 390.9 L38.6 390.2 L38.9 389.5 L39.2 388.9 L39.5 388.2 L39.9 387.6 L40.2 386.9 L40.6 386.3 L41.0 385.7 L41.4 385.1 L41.8 384.5 L42.2 384.0 L42.6 383.4 L43.1 382.9 L43.5 382.5 L44.0 382.0 L44.5 381.5 L45.0 381.1 L45.5 380.7 L46.0 380.2 L46.5 379.9 L47.0 379.6 L47.5 379.3 L48.1 379.0 L48.6 378.7 L49.3 378.5 L50.0 378.2 L50.7 378.0 L51.4 377.7 L52.2 377.5 L53.0 377.2 L53.8 377.0 L54.6 376.7 L55.5 376.5 L56.4 376.2 L57.3 375.9 L58.2 375.6 L59.1 375.3 L60.0 375.0 L60.9 374.7 L61.7 374.4 L62.6 374.2 L63.4 373.9 L64.2 373.6 L65.1 373.3 L65.9 373.1 L66.7 372.8 L67.6 372.5 L68.4 372.3 L69.2 372.0 L70.1 371.8 L70.9 371.5 L71.7 371.3 L72.6 371.0 L73.4 370.8 L74.2 370.6 L75.0 370.4 L75.9 370.1 L76.7 369.9 L77.5 369.7 L78.4 369.5 L79.2 369.3 L80.0 369.2 L80.9 369.0 L81.8 368.8 L82.6 368.6 L83.5 368.4 L84.4 368.2 L85.3 368.0 L86.2 367.8 L87.1 367.6 Z" fill="#000" stroke="#000" stroke-width="1.20" />
<path d="M37.5 415.0 C37.7 413.6 37.7 410.9 38.7 406.9 C39.7 402.9 41.4 394.9 43.4 391.0 C45.4 387.1 48.0 385.4 51.0 383.4 C54.0 381.3 57.6 379.2 61.2 378.7 C64.8 378.2 68.9 379.6 72.5 380.5 C76.1 381.4 79.2 381.6 83.0 384.4 C86.8 387.1 91.5 392.4 95.0 397.0 C98.5 401.6 100.9 405.8 104.0 412.0 C107.1 418.2 111.0 427.3 113.7 434.0 C116.4 440.7 118.3 446.0 120.0 452.0 C121.7 458.0 123.2 465.3 124.0 470.0 C124.8 474.7 124.8 478.3 125.0 480.0" fill="none" stroke="#000" stroke-width="2.64"/>
<path d="M37.5 415.0 C37.7 420.0 37.8 437.2 38.7 445.0 C39.6 452.8 41.1 456.7 43.0 462.0 C44.9 467.3 46.0 473.0 50.0 477.0 C54.0 481.0 61.7 482.6 67.0 486.0 C72.3 489.4 76.7 494.8 82.0 497.5 C87.3 500.2 93.4 501.7 98.7 502.0 C104.0 502.3 110.0 501.1 113.7 499.4 C117.4 497.7 119.1 495.4 121.0 492.0 C122.9 488.6 124.3 480.9 125.0 478.7" fill="none" stroke="#000" stroke-width="2.64"/>
<path d="M82.0 365.0 L99.6 357.8 L106.2 366.5 L87.4 372.9 Z" fill="#000" stroke="#000" stroke-width="0.96" />
<path d="M87.4 372.9 L106.1 365.3 L112.5 374.2 L92.5 381.1 Z" fill="#000" stroke="#000" stroke-width="0.96" />
<path d="M92.5 381.1 L112.4 372.9 L118.2 382.1 L97.1 389.5 Z" fill="#000" stroke="#000" stroke-width="0.96" />
<path d="M97.1 389.5 L118.2 380.8 L123.6 390.3 L101.3 398.1 Z" fill="#000" stroke="#000" stroke-width="0.96" />
<path d="M101.3 398.1 L123.5 389.0 L128.5 398.6 L105.1 406.9 Z" fill="#000" stroke="#000" stroke-width="0.96" />
<path d="M105.1 406.9 L128.5 397.3 L133.1 407.1 L108.5 415.9 Z" fill="#000" stroke="#000" stroke-width="0.96" />
<path d="M108.5 415.9 L133.1 405.8 L137.5 415.7 L111.8 424.9 Z" fill="#000" stroke="#000" stroke-width="0.96" />
<path d="M111.8 424.9 L137.5 414.4 L141.7 424.3 L114.8 434.1 Z" fill="#000" stroke="#000" stroke-width="0.96" />
<path d="M114.8 434.1 L141.6 423.0 L145.4 433.1 L117.4 443.3 Z" fill="#000" stroke="#000" stroke-width="0.96" />
<path d="M117.4 443.3 L144.2 432.3 L147.4 442.5 L119.4 452.7 Z" fill="#000" stroke="#000" stroke-width="0.96" />
<path d="M119.4 452.7 L146.2 441.7 L148.8 452.0 L120.8 462.2 Z" fill="#000" stroke="#000" stroke-width="0.96" />
<path d="M120.8 462.2 L147.6 451.2 L149.6 461.5 L121.6 471.7 Z" fill="#000" stroke="#000" stroke-width="0.96" />
<path d="M121.6 471.7 L148.4 460.7 L150.0 471.1 L122.0 481.3 Z" fill="#000" stroke="#000" stroke-width="0.96" />
<path d="M122.0 481.3 L143.6 472.5 L144.5 482.9 L121.7 490.9 Z" fill="#000" stroke="#000" stroke-width="0.96" />
<path d="M121.7 490.9 L138.0 484.2 L137.4 494.4 L119.9 500.3 Z" fill="#000" stroke="#000" stroke-width="0.96" />
<path d="M119.9 500.3 L131.0 495.8 L126.4 504.1 L114.1 507.9 Z" fill="#000" stroke="#000" stroke-width="0.96" />
<path d="M84.1 365.4 L98.9 358.6 L102.8 363.5 L87.0 369.7 Z" fill="#fff" stroke="none"/>
<path d="M89.5 373.4 L105.4 366.1 L109.2 371.0 L92.3 377.7 Z" fill="#fff" stroke="none"/>
<path d="M94.6 381.5 L111.7 373.7 L115.2 378.9 L97.1 386.0 Z" fill="#fff" stroke="none"/>
<path d="M99.2 389.9 L117.4 381.7 L120.7 387.0 L101.4 394.6 Z" fill="#fff" stroke="none"/>
<path d="M103.3 398.6 L122.7 389.9 L125.7 395.2 L105.3 403.4 Z" fill="#fff" stroke="none"/>
<path d="M107.0 407.4 L127.6 398.2 L130.5 403.7 L108.9 412.3 Z" fill="#fff" stroke="none"/>
<path d="M110.5 416.4 L132.2 406.7 L134.9 412.2 L112.2 421.3 Z" fill="#fff" stroke="none"/>
<path d="M113.7 425.4 L136.6 415.3 L139.2 420.8 L115.3 430.4 Z" fill="#fff" stroke="none"/>
<path d="M116.6 434.6 L140.7 424.0 L143.1 429.5 L118.0 439.6 Z" fill="#fff" stroke="none"/>
<path d="M119.2 443.8 L143.2 433.2 L145.3 438.9 L120.3 448.9 Z" fill="#fff" stroke="none"/>
<path d="M121.1 453.2 L145.1 442.6 L146.9 448.3 L121.9 458.4 Z" fill="#fff" stroke="none"/>
<path d="M122.4 462.7 L146.5 452.1 L147.9 457.9 L122.9 467.9 Z" fill="#fff" stroke="none"/>
<path d="M123.2 472.3 L147.3 461.7 L148.5 467.5 L123.4 477.5 Z" fill="#fff" stroke="none"/>
<path d="M123.6 481.9 L142.3 473.4 L143.2 479.2 L123.4 487.1 Z" fill="#fff" stroke="none"/>
<path d="M123.1 491.5 L136.6 485.2 L136.7 490.8 L122.1 496.5 Z" fill="#fff" stroke="none"/>
<path d="M120.9 500.7 L129.2 496.5 L127.1 501.2 L117.8 504.8 Z" fill="#fff" stroke="none"/>
<path d="M69.4 479.9 L67.8 480.2 L66.1 480.3 L64.4 480.2 L62.7 479.9 L61.0 479.4 L59.2 478.7 L57.5 477.7 L55.8 476.6 L54.1 475.3 L52.5 473.7 L51.0 472.1 L49.5 470.2 L48.2 468.2 L46.9 466.1 L45.8 463.9 L44.7 461.6 L43.8 459.2 L43.0 456.7 L42.4 454.2 L41.9 451.7 L41.6 449.2 L41.4 446.7 L41.3 444.3 L41.4 441.9 L41.7 439.5 L42.1 437.3 L42.6 435.2 L43.3 433.1 L44.2 431.3 L45.1 429.6 L46.2 428.0 L47.4 426.6 L48.7 425.5 L50.1 424.5 L51.6 423.7 L53.2 423.1 L54.8 422.8 L56.5 422.7 L58.2 422.8 L59.9 423.1 L61.6 423.6 L63.4 424.3 L65.1 425.3 L66.8 426.4 L68.5 427.7 L70.1 429.3 L71.6 430.9 L73.1 432.8 L74.4 434.8 L75.7 436.9 L76.8 439.1 L77.9 441.4 L78.8 443.8 L79.6 446.3 L80.2 448.8 L80.7 451.3 L81.0 453.8 L81.2 456.3 L81.3 458.7 L81.2 461.1 L80.9 463.5 L80.5 465.7 L80.0 467.8 L79.3 469.9 L78.4 471.7 L77.5 473.4 L76.4 475.0 L75.2 476.4 L73.9 477.5 L72.5 478.5 L71.0 479.3 L69.4 479.9 Z" fill="none" stroke="#000" stroke-width="2.40" />
<path d="M69.3 476.0 L68.0 476.3 L66.6 476.4 L65.2 476.3 L63.8 476.0 L62.4 475.5 L60.9 474.9 L59.5 474.0 L58.1 473.0 L56.7 471.9 L55.4 470.5 L54.1 469.1 L52.9 467.5 L51.8 465.7 L50.7 463.9 L49.7 462.0 L48.8 460.0 L48.1 457.9 L47.4 455.8 L46.8 453.6 L46.4 451.5 L46.1 449.3 L45.9 447.1 L45.8 445.0 L45.9 442.9 L46.1 440.9 L46.4 439.0 L46.8 437.2 L47.3 435.5 L48.0 433.9 L48.8 432.4 L49.6 431.1 L50.6 429.9 L51.7 428.9 L52.8 428.1 L54.0 427.5 L55.3 427.0 L56.6 426.7 L58.0 426.6 L59.4 426.7 L60.8 427.0 L62.2 427.5 L63.7 428.1 L65.1 429.0 L66.5 430.0 L67.9 431.1 L69.2 432.5 L70.5 433.9 L71.7 435.5 L72.8 437.3 L73.9 439.1 L74.9 441.0 L75.8 443.0 L76.5 445.1 L77.2 447.2 L77.8 449.4 L78.2 451.5 L78.5 453.7 L78.7 455.9 L78.8 458.0 L78.7 460.1 L78.5 462.1 L78.2 464.0 L77.8 465.8 L77.3 467.5 L76.6 469.1 L75.8 470.6 L75.0 471.9 L74.0 473.1 L72.9 474.1 L71.8 474.9 L70.6 475.5 L69.3 476.0 Z" fill="none" stroke="#000" stroke-width="1.92" />
<path d="M70.4 477.9 L68.9 478.2 L67.4 478.4 L65.8 478.3 L64.3 478.0 L62.7 477.5 L61.1 476.8 L59.5 475.9 L58.0 474.8 L56.5 473.5 L55.0 472.1 L53.6 470.5 L52.3 468.8 L51.0 467.0 L49.9 465.0 L48.8 462.9 L47.8 460.8 L47.0 458.5 L46.3 456.2 L45.7 453.9 L45.2 451.6 L44.9 449.2 L44.7 446.9 L44.6 444.6 L44.7 442.4 L44.9 440.2 L45.3 438.1 L45.7 436.2 L46.4 434.3 L47.1 432.6 L48.0 431.0 L48.9 429.5 L50.0 428.3 L51.2 427.2 L52.5 426.3 L53.8 425.6 L55.2 425.1 L56.7 424.8 L58.2 424.6 L59.8 424.7 L61.3 425.0 L62.9 425.5 L64.5 426.2 L66.1 427.1 L67.6 428.2 L69.1 429.5 L70.6 430.9 L72.0 432.5 L73.3 434.2 L74.6 436.0 L75.7 438.0 L76.8 440.1 L77.8 442.2 L78.6 444.5 L79.3 446.8 L79.9 449.1 L80.4 451.4 L80.7 453.8 L80.9 456.1 L81.0 458.4 L80.9 460.6 L80.7 462.8 L80.3 464.9 L79.9 466.8 L79.2 468.7 L78.5 470.4 L77.6 472.0 L76.7 473.5 L75.6 474.7 L74.4 475.8 L73.1 476.7 L71.8 477.4 L70.4 477.9 Z" fill="none" stroke="#000" stroke-width="1.08" />
<path d="M47.5 420.0 L77.5 408.7" fill="none" stroke="#000" stroke-width="2.76" />
<path d="M77.5 408.7 C79.2 409.1 84.8 408.9 88.0 411.0 C91.2 413.1 94.4 417.3 97.0 421.0 C99.6 424.7 102.0 428.8 103.5 433.0 C105.0 437.2 105.9 441.8 106.0 446.0 C106.1 450.2 105.0 454.4 104.0 458.0 C103.0 461.6 100.7 465.9 100.0 467.5" fill="none" stroke="#000" stroke-width="2.76"/>
<path d="M72.5 478.7 L100.0 467.5" fill="none" stroke="#000" stroke-width="2.76" />
<path d="M76.2 362.5 C76.8 360.8 78.5 354.9 80.0 352.0 C81.5 349.1 82.5 347.8 85.0 345.0 C87.5 342.2 88.3 338.8 95.0 335.0 C101.7 331.2 115.8 326.9 125.0 322.5 C134.2 318.1 140.8 313.1 150.0 308.7 C159.2 304.3 175.0 298.3 180.0 296.2" fill="none" stroke="#000" stroke-width="2.76"/>
<path d="M180.0 296.2 L190.0 292.5 L220.0 281.2 L232.0 279.5" fill="none" stroke="#000" stroke-width="2.76" />
<path d="M232.0 279.5 C233.8 279.8 238.3 279.9 242.5 281.2 C246.7 282.5 252.4 284.9 257.0 287.5 C261.6 290.1 265.5 293.1 270.0 297.0 C274.5 300.9 279.7 306.0 284.0 311.0 C288.3 316.0 292.4 321.7 296.0 327.0 C299.6 332.3 302.8 337.5 305.5 343.0 C308.2 348.5 310.2 354.8 312.0 360.0 C313.8 365.2 315.2 369.3 316.5 374.0 C317.8 378.7 318.8 383.3 319.5 388.0 C320.2 392.7 320.9 397.5 321.0 402.0 C321.1 406.5 320.5 410.7 320.0 415.0 C319.5 419.3 319.3 423.5 318.0 428.0 C316.7 432.5 314.5 438.0 312.0 442.0 C309.5 446.0 305.8 449.5 303.0 452.0 C300.2 454.5 296.3 456.2 295.0 457.0" fill="none" stroke="#000" stroke-width="3.24"/>
<path d="M295.0 457.0 L252.0 477.5 L240.0 482.5 L195.0 498.4" fill="none" stroke="#000" stroke-width="2.76" />
<path d="M192.0 295.0 L221.0 284.0 L243.0 284.5" fill="none" stroke="#000" stroke-width="2.88" />
<path d="M250.0 284.5 C252.2 286.0 258.8 289.9 263.0 293.5 C267.2 297.1 271.3 301.3 275.5 306.0 C279.7 310.7 284.3 316.4 288.0 321.5 C291.7 326.6 294.9 331.9 297.5 336.5 C300.1 341.1 301.7 344.6 303.5 349.0 C305.3 353.4 306.9 357.8 308.5 363.0 C310.1 368.2 311.8 374.8 313.0 380.0 C314.2 385.2 315.2 390.0 316.0 394.0 C316.8 398.0 317.2 402.3 317.5 404.0" fill="none" stroke="#000" stroke-width="1.92"/>
<path d="M246.0 285.5 C247.3 286.2 251.0 287.1 254.0 289.5 C257.0 291.9 260.6 295.8 264.0 300.0 C267.4 304.2 270.7 309.3 274.5 314.5 C278.3 319.7 283.2 326.0 286.7 331.2 C290.2 336.4 293.0 340.9 295.6 345.7 C298.2 350.5 300.5 355.6 302.3 360.0 C304.1 364.4 305.2 367.7 306.5 372.0 C307.8 376.3 309.0 381.3 310.0 386.0 C311.0 390.7 312.1 397.7 312.5 400.0" fill="none" stroke="#000" stroke-width="2.40"/>
<path d="M92.5 360.0 C93.1 358.0 94.3 351.6 96.0 348.0 C97.7 344.4 97.2 342.1 102.5 338.7 C107.8 335.3 118.5 331.4 127.5 327.5 C136.4 323.6 151.4 317.1 156.2 315.0" fill="none" stroke="#000" stroke-width="2.76"/>
<path d="M145.0 315.0 L156.2 315.8 L162.5 322.5" fill="none" stroke="#000" stroke-width="2.76" />
<path d="M170.0 306.0 L180.0 310.0" fill="none" stroke="#000" stroke-width="2.76" />
<path d="M160.0 305.5 C162.0 305.8 168.2 306.8 172.0 307.5 C175.8 308.2 178.7 308.6 182.5 310.0 C186.3 311.4 191.2 313.9 195.0 316.0 C198.8 318.1 201.5 319.8 205.0 322.5 C208.5 325.2 212.7 328.7 216.0 332.0 C219.3 335.3 222.5 339.2 225.0 342.5 C227.5 345.8 229.3 349.1 231.0 352.0 C232.7 354.9 234.6 357.5 235.0 360.0 C235.4 362.5 233.9 365.2 233.5 367.0 C233.1 368.8 232.7 370.3 232.5 371.0" fill="none" stroke="#000" stroke-width="2.76"/>
<path d="M213.7 330.0 C215.1 331.2 219.5 334.5 222.0 337.0 C224.5 339.5 226.9 342.5 228.7 345.0 C230.4 347.5 231.6 349.8 232.5 352.0 C233.4 354.2 234.1 357.0 234.4 358.0" fill="none" stroke="#000" stroke-width="1.56"/>
<path d="M193.1 336.2 L192.9 336.3 L192.6 336.2 L192.3 336.2 L192.1 336.1 L191.8 336.0 L191.5 335.9 L191.3 335.7 L191.0 335.5 L190.8 335.2 L190.6 334.9 L190.4 334.6 L190.2 334.3 L190.0 334.0 L189.8 333.6 L189.7 333.2 L189.5 332.8 L189.4 332.4 L189.3 332.0 L189.3 331.6 L189.2 331.2 L189.2 330.8 L189.2 330.4 L189.3 330.0 L189.3 329.6 L189.4 329.2 L189.5 328.9 L189.6 328.5 L189.8 328.2 L189.9 327.9 L190.1 327.7 L190.3 327.4 L190.5 327.2 L190.7 327.1 L191.0 326.9 L191.2 326.8 L191.5 326.8 L191.7 326.7 L192.0 326.8 L192.3 326.8 L192.5 326.9 L192.8 327.0 L193.1 327.1 L193.3 327.3 L193.6 327.5 L193.8 327.8 L194.0 328.1 L194.2 328.4 L194.4 328.7 L194.6 329.0 L194.8 329.4 L194.9 329.8 L195.1 330.2 L195.2 330.6 L195.3 331.0 L195.3 331.4 L195.4 331.8 L195.4 332.2 L195.4 332.6 L195.3 333.0 L195.3 333.4 L195.2 333.8 L195.1 334.1 L195.0 334.5 L194.8 334.8 L194.7 335.1 L194.5 335.3 L194.3 335.6 L194.1 335.8 L193.9 335.9 L193.6 336.1 L193.4 336.2 L193.1 336.2 Z" fill="none" stroke="#000" stroke-width="2.16" />
<path d="M248.8 435.0 L248.6 435.1 L248.3 435.0 L248.1 435.0 L247.9 434.9 L247.6 434.8 L247.4 434.7 L247.2 434.5 L247.0 434.3 L246.7 434.1 L246.5 433.8 L246.4 433.5 L246.2 433.2 L246.0 432.9 L245.9 432.5 L245.7 432.2 L245.6 431.8 L245.5 431.4 L245.4 431.1 L245.4 430.7 L245.3 430.3 L245.3 429.9 L245.3 429.5 L245.3 429.1 L245.4 428.8 L245.5 428.4 L245.5 428.1 L245.6 427.8 L245.8 427.5 L245.9 427.2 L246.0 427.0 L246.2 426.8 L246.4 426.6 L246.6 426.4 L246.8 426.3 L247.0 426.2 L247.2 426.2 L247.4 426.1 L247.7 426.2 L247.9 426.2 L248.1 426.3 L248.4 426.4 L248.6 426.5 L248.8 426.7 L249.0 426.9 L249.3 427.1 L249.5 427.4 L249.6 427.7 L249.8 428.0 L250.0 428.3 L250.1 428.7 L250.3 429.0 L250.4 429.4 L250.5 429.8 L250.6 430.1 L250.6 430.5 L250.7 430.9 L250.7 431.3 L250.7 431.7 L250.7 432.1 L250.6 432.4 L250.5 432.8 L250.5 433.1 L250.4 433.4 L250.2 433.7 L250.1 434.0 L250.0 434.2 L249.8 434.4 L249.6 434.6 L249.4 434.8 L249.2 434.9 L249.0 435.0 L248.8 435.0 Z" fill="none" stroke="#000" stroke-width="1.92" />
<path d="M217.5 350.6 L225.0 352.5 L223.0 363.7 L228.7 367.5 L227.0 373.0" fill="none" stroke="#000" stroke-width="2.76" />
<path d="M190.0 297.5 L220.0 283.7 L242.5 283.7 L257.5 297.5 L270.0 312.5 L265.0 322.5 L255.0 328.7 L232.5 327.5 L215.0 312.5 L197.5 302.5 Z" fill="#fff" stroke="#000" stroke-width="2.40" />
<path d="M191.2 298.0 L220.0 284.5 L242.5 284.5 L256.2 297.5 L261.0 310.0 L258.5 322.5 L252.5 328.0 L232.5 327.5 L215.0 312.5 L197.5 302.5 Z" fill="#000" stroke="#000" stroke-width="1.80" />
<path d="M205.0 301.2 L225.5 289.5" fill="none" stroke="#fff" stroke-width="3.60"/>
<path d="M213.8 299.5 L241.2 286.0" fill="none" stroke="#fff" stroke-width="3.60"/>
<path d="M221.2 306.5 L248.0 292.5" fill="none" stroke="#fff" stroke-width="3.60"/>
<path d="M227.0 313.5 L256.2 298.5" fill="none" stroke="#fff" stroke-width="3.60"/>
<path d="M233.0 320.5 L259.5 307.5" fill="none" stroke="#fff" stroke-width="3.60"/>
<path d="M242.0 326.0 L259.5 317.5" fill="none" stroke="#fff" stroke-width="3.60"/>
<path d="M197.5 300.0 L218.8 289.5" fill="none" stroke="#fff" stroke-width="1.44" />
<path d="M268.7 397.0 L276.2 385.6 L289.4 381.0 L300.0 382.0 L309.0 386.0 L313.0 398.0 L315.6 410.0 L314.5 425.0 L312.0 436.0 L304.4 445.0 L285.6 455.0 L267.0 458.7 L271.0 442.0 L274.4 427.0 L271.0 410.0 Z" fill="#fff" stroke="#000" stroke-width="2.40" />
<path d="M274.4 391.3 L281.9 383.8 L295.0 381.5 L303.4 386.6 L309.1 398.8 L315.6 410.0 L316.8 423.1 L313.8 433.4 L302.5 438.5 L281.9 444.1 L272.1 446.0 L276.3 426.9 L274.0 408.1 Z" fill="#000" stroke="#000" stroke-width="1.80" />
<path d="M276.6 401.0 L295.0 389.8" fill="none" stroke="#fff" stroke-width="3.84"/>
<path d="M279.6 410.0 L302.5 396.9" fill="none" stroke="#fff" stroke-width="3.84"/>
<path d="M281.9 419.4 L310.0 404.4" fill="none" stroke="#fff" stroke-width="3.84"/>
<path d="M283.8 427.3 L313.8 412.3" fill="none" stroke="#fff" stroke-width="3.84"/>
<path d="M287.1 434.8 L313.8 423.5" fill="none" stroke="#fff" stroke-width="3.84"/>
<path d="M271.6 452.2 C274.8 451.5 284.9 450.0 291.3 447.9 C297.6 445.8 306.6 441.0 309.6 439.6" fill="none" stroke="#000" stroke-width="2.40"/>
<path d="M150.0 392.8 L148.1 352.5 L157.5 351.0 L159.4 343.1 L172.9 344.6 L175.3 340.9 L193.5 346.9 L195.4 347.8 L216.6 369.8 L221.3 374.6 L183.8 392.8 Z" fill="#fff" stroke="#000" stroke-width="2.40" />
<path d="M157.5 351.0 L159.4 343.1 L163.5 382.5 L160.3 380.6 Z" fill="#000" stroke="#000" stroke-width="1.44" />
<path d="M172.9 344.6 L175.3 340.9 L171.9 382.5 L168.4 380.6 Z" fill="#000" stroke="#000" stroke-width="1.44" />
<path d="M193.5 346.9 L195.4 347.8 L180.0 386.3 L176.3 383.4 Z" fill="#000" stroke="#000" stroke-width="1.44" />
<path d="M148.1 352.5 L150.0 353.4 L156.8 382.9 L154.9 382.9 Z" fill="#000" stroke="#000" stroke-width="1.44" />
<path d="M169.1 345.4 L167.3 381.0" fill="none" stroke="#000" stroke-width="1.20"/>
<path d="M187.5 345.9 L175.1 383.1" fill="none" stroke="#000" stroke-width="1.20"/>
<path d="M209.1 362.3 L183.2 387.8" fill="none" stroke="#000" stroke-width="1.20"/>
<path d="M216.6 369.8 L184.1 388.9" fill="none" stroke="#000" stroke-width="1.80"/>
<path d="M218.4 372.8 L184.7 390.4" fill="none" stroke="#000" stroke-width="1.32"/>
<path d="M157 388.2 A8 7.5 0 0 1 173 388.2 Z" fill="#000" stroke="#000" stroke-width="1"/>
<path d="M150.9 394.7 L181.9 394.7" fill="none" stroke="#000" stroke-width="1.68" />
<path d="M150.0 391.9 L131.3 384.4 L103.1 360.0 L112.5 353.4 L120.0 350.6 L130.3 348.8 L138.8 354.4 L148.1 352.5 Z" fill="#fff" stroke="#000" stroke-width="2.40" />
<path d="M134.1 354.0 L138.8 354.4 L144.4 384.4 L137.8 383.4 Z" fill="#000" stroke="#000" stroke-width="1.44" />
<path d="M120.0 350.6 L123.8 350.3 L133.1 382.5 L128.4 383.4 Z" fill="#000" stroke="#000" stroke-width="1.44" />
<path d="M106.9 356.3 L110.6 354.4 L121.9 380.6 L118.1 379.1 Z" fill="#000" stroke="#000" stroke-width="1.44" />
<path d="M115.3 352.1 L126.6 382.5" fill="none" stroke="#000" stroke-width="1.20"/>
<path d="M144.4 353.4 L148.1 384.4" fill="none" stroke="#000" stroke-width="1.44"/>
<path d="M180.0 396.5 L187.5 408.7" fill="none" stroke="#000" stroke-width="2.76" />
<path d="M144.4 423.7 L185.6 410.3" fill="none" stroke="#000" stroke-width="2.76" />
<path d="M189.4 409.4 C190.9 407.5 196.7 408.1 198.7 409.4 C200.7 410.7 201.8 414.5 201.5 417.0 C201.2 419.5 199.0 423.8 197.0 424.4 C195.0 425.0 190.7 423.1 189.4 420.6 C188.1 418.1 187.9 411.3 189.4 409.4 Z" fill="none" stroke="#000" stroke-width="2.76"/>
<path d="M189.4 409.4 L189.4 420.6" fill="none" stroke="#000" stroke-width="2.76" />
<path d="M187.5 422.5 C185.6 422.6 179.3 422.5 176.2 423.4 C173.1 424.3 169.6 425.6 168.7 428.0 C167.8 430.4 169.3 434.1 170.6 437.5 C171.8 440.9 173.7 446.2 176.2 448.7 C178.7 451.2 184.0 451.9 185.6 452.5" fill="none" stroke="#000" stroke-width="2.76"/>
<path d="M185.6 450.6 C186.5 448.4 189.8 441.3 191.0 437.5 C192.2 433.7 194.2 429.9 193.0 428.0 C191.8 426.1 186.5 425.3 183.7 426.0 C180.9 426.7 176.9 429.7 176.0 432.0 C175.1 434.3 177.7 438.7 178.0 440.0" fill="none" stroke="#000" stroke-width="1.80"/>
<path d="M185.6 452.5 C185.4 453.1 184.4 453.2 184.7 456.0 C185.0 458.8 185.8 465.6 187.5 469.4 C189.2 473.2 194.1 475.3 195.0 478.7 C195.9 482.1 193.7 486.9 193.0 490.0 C192.3 493.1 191.3 496.2 191.0 497.5" fill="none" stroke="#000" stroke-width="2.76"/>
<path d="M189.4 454.4 C190.0 456.6 190.8 463.4 193.0 467.5 C195.2 471.6 201.6 474.6 202.5 478.7 C203.4 482.8 199.9 488.7 198.7 492.0 C197.4 495.3 195.6 497.3 195.0 498.4" fill="none" stroke="#000" stroke-width="2.76"/>
<path d="M216.8 473.7 L215.4 473.9 L214.1 473.9 L212.7 473.8 L211.4 473.6 L210.0 473.2 L208.7 472.7 L207.4 472.1 L206.2 471.4 L205.0 470.5 L203.9 469.5 L202.9 468.5 L201.9 467.3 L201.1 466.1 L200.3 464.7 L199.7 463.4 L199.1 461.9 L198.7 460.4 L198.3 458.9 L198.1 457.4 L198.0 455.8 L198.1 454.3 L198.2 452.8 L198.5 451.2 L198.8 449.8 L199.3 448.4 L199.9 447.0 L200.7 445.7 L201.5 444.5 L202.4 443.4 L203.3 442.4 L204.4 441.5 L205.5 440.7 L206.7 440.0 L208.0 439.4 L209.3 439.0 L210.6 438.7 L212.0 438.5 L213.3 438.5 L214.7 438.6 L216.0 438.8 L217.4 439.2 L218.7 439.7 L220.0 440.3 L221.2 441.0 L222.4 441.9 L223.5 442.9 L224.5 443.9 L225.5 445.1 L226.3 446.3 L227.1 447.7 L227.7 449.0 L228.3 450.5 L228.7 452.0 L229.1 453.5 L229.3 455.0 L229.4 456.6 L229.3 458.1 L229.2 459.6 L228.9 461.2 L228.6 462.6 L228.1 464.0 L227.5 465.4 L226.7 466.7 L225.9 467.9 L225.0 469.0 L224.1 470.0 L223.0 470.9 L221.9 471.7 L220.7 472.4 L219.4 473.0 L218.1 473.4 L216.8 473.7 Z" fill="none" stroke="#000" stroke-width="2.52" />
<path d="M216.1 470.0 L215.1 470.1 L214.1 470.1 L213.0 470.0 L212.0 469.9 L211.0 469.6 L210.0 469.2 L209.0 468.7 L208.1 468.1 L207.2 467.4 L206.4 466.6 L205.6 465.8 L204.9 464.9 L204.2 463.9 L203.6 462.8 L203.1 461.7 L202.7 460.6 L202.3 459.4 L202.1 458.2 L201.9 457.0 L201.8 455.8 L201.8 454.6 L201.9 453.4 L202.1 452.2 L202.4 451.1 L202.8 450.0 L203.2 448.9 L203.8 447.9 L204.4 447.0 L205.0 446.1 L205.8 445.3 L206.6 444.6 L207.4 443.9 L208.3 443.4 L209.3 443.0 L210.3 442.6 L211.3 442.4 L212.3 442.3 L213.3 442.3 L214.4 442.4 L215.4 442.5 L216.4 442.8 L217.4 443.2 L218.4 443.7 L219.3 444.3 L220.2 445.0 L221.0 445.8 L221.8 446.6 L222.5 447.5 L223.2 448.5 L223.8 449.6 L224.3 450.7 L224.7 451.8 L225.1 453.0 L225.3 454.2 L225.5 455.4 L225.6 456.6 L225.6 457.8 L225.5 459.0 L225.3 460.2 L225.0 461.3 L224.6 462.4 L224.2 463.5 L223.6 464.5 L223.0 465.4 L222.4 466.3 L221.6 467.1 L220.8 467.8 L220.0 468.5 L219.1 469.0 L218.1 469.4 L217.1 469.8 L216.1 470.0 Z" fill="none" stroke="#000" stroke-width="2.28" />
<path d="M145.0 487.5 C145.5 486.7 145.9 482.4 148.0 482.5 C150.1 482.6 153.0 486.6 157.5 488.0 C162.0 489.4 169.4 490.3 175.0 491.0 C180.6 491.7 188.3 491.8 191.0 492.0" fill="none" stroke="#000" stroke-width="2.76"/>
<path d="M155.6 485.3 L191.0 487.0" fill="none" stroke="#000" stroke-width="2.76" />
<path d="M145.0 487.5 L150.0 497.5 L180.0 502.5 L195.0 498.4" fill="none" stroke="#000" stroke-width="1.92" />
<path d="M217.0 483.5 L258.0 467.5 L260.0 470.5 L222.0 485.0 Z" fill="#000" stroke="#000" stroke-width="1.68" />
<path d="M217.5 400.0 C217.8 403.1 216.9 414.0 219.4 418.7 C221.9 423.4 229.1 424.3 232.5 428.0 C235.9 431.7 238.2 437.0 240.0 441.0 C241.8 445.0 242.6 448.4 243.0 452.0 C243.4 455.6 244.7 459.1 242.5 462.5 C240.3 465.9 232.1 470.8 230.0 472.5" fill="none" stroke="#000" stroke-width="2.76"/>
<path d="M217.5 400.0 L238.7 389.4 L244.4 389.4 L250.0 391.0" fill="none" stroke="#000" stroke-width="2.76" />
<path d="M250.0 391.0 C250.7 392.8 252.8 397.6 254.0 402.0 C255.2 406.4 256.6 410.8 257.5 417.5 C258.4 424.2 259.4 434.5 259.4 442.0 C259.4 449.5 258.7 456.9 257.5 462.5 C256.3 468.1 252.9 473.4 252.0 475.6" fill="none" stroke="#000" stroke-width="2.76"/>
<path d="M240.6 395.0 C241.3 397.5 243.8 404.7 245.0 410.0 C246.2 415.3 247.1 421.7 248.0 427.0 C248.9 432.3 249.8 437.3 250.5 442.0 C251.2 446.7 251.5 450.7 252.0 455.0 C252.5 459.3 253.4 465.8 253.7 468.0" fill="none" stroke="#000" stroke-width="1.80"/>
<path d="M238.7 389.4 L240.6 395.0" fill="none" stroke="#000" stroke-width="1.68" />
<path d="M252.0 477.5 L220.0 482.5" fill="none" stroke="#000" stroke-width="1.68" />
<path d="M356.0 357.0 L341.7 364.7 L341.7 381.6 L371.6 402.4" fill="none" stroke="#000" stroke-width="2.76" />
<path d="M341.7 364.7 L364.0 379.5" fill="none" stroke="#000" stroke-width="2.76" />
<path d="M371.6 396.0 L371.6 427.0 L378.0 427.0 L378.0 400.0" fill="none" stroke="#000" stroke-width="1.92" />
<path d="M374.8 400.0 L374.8 426.0" fill="none" stroke="#000" stroke-width="1.20"/>
<path d="M382.0 416.7 L441.9 458.4 L471.8 451.9 L490.0 450.6" fill="none" stroke="#000" stroke-width="2.76" />
<path d="M382.0 416.7 L382.0 435.0 L439.3 475.3 L441.9 475.3 L441.9 458.4" fill="none" stroke="#000" stroke-width="2.76" />
<path d="M405.4 405.0 L470.5 449.3" fill="none" stroke="#000" stroke-width="1.92" />
<path d="M387.0 390.5 C387.8 391.6 389.8 395.0 392.0 397.0 C394.2 399.0 397.8 401.2 400.0 402.5 C402.2 403.8 404.5 404.6 405.4 405.0" fill="none" stroke="#000" stroke-width="1.80"/>
<path d="M403.1 406.0 L403.1 406.3 L402.9 406.6 L402.7 406.9 L402.5 407.1 L402.2 407.4 L401.8 407.6 L401.5 407.8 L401.0 408.0 L400.6 408.2 L400.1 408.3 L399.6 408.4 L399.0 408.4 L398.5 408.5 L397.9 408.5 L397.3 408.5 L396.7 408.4 L396.1 408.3 L395.5 408.2 L394.9 408.1 L394.3 407.9 L393.8 407.7 L393.2 407.5 L392.7 407.3 L392.2 407.0 L391.7 406.7 L391.3 406.4 L390.9 406.1 L390.5 405.8 L390.2 405.4 L390.0 405.1 L389.8 404.8 L389.6 404.4 L389.5 404.1 L389.4 403.7 L389.4 403.4 L389.5 403.0 L389.5 402.7 L389.7 402.4 L389.9 402.1 L390.1 401.9 L390.4 401.6 L390.8 401.4 L391.1 401.2 L391.6 401.0 L392.0 400.8 L392.5 400.7 L393.0 400.6 L393.6 400.6 L394.1 400.5 L394.7 400.5 L395.3 400.5 L395.9 400.6 L396.5 400.7 L397.1 400.8 L397.7 400.9 L398.3 401.1 L398.8 401.3 L399.4 401.5 L399.9 401.7 L400.4 402.0 L400.9 402.3 L401.3 402.6 L401.7 402.9 L402.1 403.2 L402.4 403.6 L402.6 403.9 L402.8 404.2 L403.0 404.6 L403.1 404.9 L403.2 405.3 L403.2 405.6 L403.1 406.0 Z" fill="none" stroke="#000" stroke-width="2.16" />
<path d="M400.7 406.1 L400.7 406.3 L400.6 406.4 L400.5 406.6 L400.3 406.7 L400.2 406.8 L400.0 406.9 L399.8 407.0 L399.6 407.1 L399.3 407.1 L399.0 407.2 L398.7 407.2 L398.4 407.2 L398.1 407.2 L397.8 407.2 L397.5 407.2 L397.1 407.2 L396.8 407.1 L396.4 407.1 L396.1 407.0 L395.8 406.9 L395.4 406.8 L395.1 406.7 L394.8 406.5 L394.5 406.4 L394.2 406.3 L394.0 406.1 L393.8 406.0 L393.6 405.8 L393.4 405.6 L393.2 405.5 L393.1 405.3 L393.0 405.1 L392.9 405.0 L392.9 404.8 L392.9 404.6 L392.9 404.5 L392.9 404.3 L393.0 404.2 L393.1 404.0 L393.3 403.9 L393.4 403.8 L393.6 403.7 L393.8 403.6 L394.0 403.5 L394.3 403.5 L394.6 403.4 L394.9 403.4 L395.2 403.4 L395.5 403.4 L395.8 403.4 L396.1 403.4 L396.5 403.4 L396.8 403.5 L397.2 403.5 L397.5 403.6 L397.8 403.7 L398.2 403.8 L398.5 403.9 L398.8 404.1 L399.1 404.2 L399.4 404.3 L399.6 404.5 L399.8 404.6 L400.0 404.8 L400.2 405.0 L400.4 405.1 L400.5 405.3 L400.6 405.5 L400.7 405.6 L400.7 405.8 L400.7 406.0 L400.7 406.1 Z" fill="#000" stroke="#000" stroke-width="1.20" />
<path d="M453.2 442.8 L453.1 443.2 L452.9 443.5 L452.7 443.8 L452.5 444.1 L452.2 444.4 L451.8 444.7 L451.4 444.9 L451.0 445.2 L450.5 445.3 L450.0 445.5 L449.4 445.6 L448.9 445.7 L448.3 445.8 L447.6 445.8 L447.0 445.8 L446.4 445.8 L445.7 445.7 L445.1 445.6 L444.4 445.5 L443.8 445.3 L443.2 445.2 L442.6 444.9 L442.0 444.7 L441.5 444.4 L441.0 444.1 L440.5 443.8 L440.1 443.5 L439.7 443.2 L439.3 442.8 L439.0 442.4 L438.8 442.1 L438.6 441.7 L438.5 441.3 L438.4 440.9 L438.4 440.6 L438.4 440.2 L438.5 439.8 L438.7 439.5 L438.9 439.2 L439.1 438.9 L439.4 438.6 L439.8 438.3 L440.2 438.1 L440.6 437.8 L441.1 437.7 L441.6 437.5 L442.2 437.4 L442.7 437.3 L443.3 437.2 L444.0 437.2 L444.6 437.2 L445.2 437.2 L445.9 437.3 L446.5 437.4 L447.2 437.5 L447.8 437.7 L448.4 437.8 L449.0 438.1 L449.6 438.3 L450.1 438.6 L450.6 438.9 L451.1 439.2 L451.5 439.5 L451.9 439.8 L452.3 440.2 L452.6 440.6 L452.8 440.9 L453.0 441.3 L453.1 441.7 L453.2 442.1 L453.2 442.4 L453.2 442.8 Z" fill="none" stroke="#000" stroke-width="2.16" />
<path d="M450.5 443.0 L450.5 443.2 L450.4 443.4 L450.3 443.5 L450.2 443.7 L450.0 443.8 L449.8 443.9 L449.6 444.0 L449.3 444.1 L449.0 444.2 L448.8 444.3 L448.4 444.3 L448.1 444.4 L447.8 444.4 L447.4 444.4 L447.1 444.4 L446.7 444.4 L446.3 444.3 L446.0 444.3 L445.6 444.2 L445.2 444.1 L444.9 444.0 L444.5 443.9 L444.2 443.8 L443.9 443.6 L443.6 443.5 L443.3 443.3 L443.1 443.2 L442.8 443.0 L442.6 442.8 L442.5 442.6 L442.3 442.5 L442.2 442.3 L442.1 442.1 L442.1 441.9 L442.1 441.7 L442.1 441.6 L442.1 441.4 L442.2 441.2 L442.3 441.1 L442.4 440.9 L442.6 440.8 L442.8 440.7 L443.0 440.6 L443.3 440.5 L443.6 440.4 L443.8 440.3 L444.2 440.3 L444.5 440.2 L444.8 440.2 L445.2 440.2 L445.5 440.2 L445.9 440.2 L446.3 440.3 L446.6 440.3 L447.0 440.4 L447.4 440.5 L447.7 440.6 L448.1 440.7 L448.4 440.8 L448.7 441.0 L449.0 441.1 L449.3 441.3 L449.5 441.4 L449.8 441.6 L450.0 441.8 L450.1 442.0 L450.3 442.1 L450.4 442.3 L450.5 442.5 L450.5 442.7 L450.5 442.9 L450.5 443.0 Z" fill="#000" stroke="#000" stroke-width="1.20" />
<path d="M491.2 405.0 L486.6 439.7" fill="none" stroke="#000" stroke-width="2.76" />
<path d="M470.5 449.3 L474.4 450.0 L481.9 452.8 L497.5 452.8" fill="none" stroke="#000" stroke-width="2.16" />
<path d="M470.6 452.8 C469.2 453.7 464.8 456.0 462.0 458.0 C459.2 460.0 456.0 463.2 453.7 465.0 C451.4 466.8 448.9 468.1 448.0 468.7" fill="none" stroke="#000" stroke-width="2.16"/>
<path d="M453.7 465.0 C457.4 465.6 467.8 468.1 476.2 468.7 C484.6 469.3 496.3 469.3 504.4 468.7 C512.5 468.1 521.6 465.6 525.0 465.0" fill="none" stroke="#000" stroke-width="2.16"/>
<path d="M448.0 468.7 C451.1 469.3 459.1 471.9 466.9 472.5 C474.7 473.1 485.9 473.4 495.0 472.5 C504.1 471.6 515.7 468.3 521.2 466.9 C526.7 465.5 526.7 464.5 527.8 464.0" fill="none" stroke="#000" stroke-width="2.16"/>
<path d="M440.6 473.5 C442.5 474.3 447.9 477.1 452.0 478.5 C456.1 479.9 457.8 481.2 465.0 481.9 C472.2 482.6 485.0 483.4 495.0 482.8 C505.0 482.2 518.8 479.7 525.0 478.0 C531.2 476.3 531.2 473.4 532.5 472.5" fill="none" stroke="#000" stroke-width="2.40"/>
<path d="M498.4 448.0 L500.3 445.3 L587.5 424.7 L604.4 420.0" fill="none" stroke="#000" stroke-width="2.76" />
<path d="M504.0 446.2 L534.0 455.6 L585.6 427.5" fill="none" stroke="#000" stroke-width="1.92" />
<path d="M498.4 448.0 C499.2 449.0 501.3 452.1 503.0 454.0 C504.7 455.9 506.4 458.0 508.7 459.4 C511.0 460.8 514.2 461.7 517.0 462.5 C519.8 463.3 524.2 463.8 525.6 464.0" fill="none" stroke="#000" stroke-width="2.76"/>
<path d="M526.5 464.0 L526.5 472.5" fill="none" stroke="#000" stroke-width="2.76"/>
<path d="M535.0 456.0 L535.0 470.6" fill="none" stroke="#000" stroke-width="2.76"/>
<path d="M537.0 461.0 L585.6 431.0 L586.5 436.5 L538.0 463.5 Z" fill="#000" stroke="#000" stroke-width="1.68" />
<path d="M587.0 425.6 L587.0 437.0" fill="none" stroke="#000" stroke-width="2.76"/>
<path d="M587.0 437.0 L602.5 443.4" fill="none" stroke="#000" stroke-width="2.76" />
<path d="M536.0 465.0 L603.4 442.5" fill="none" stroke="#000" stroke-width="1.80" />
<path d="M535.0 470.6 L602.5 452.8" fill="none" stroke="#000" stroke-width="2.76" />
<path d="M531.2 447.9 L531.1 448.2 L531.0 448.6 L530.8 449.0 L530.6 449.3 L530.3 449.7 L530.0 450.0 L529.6 450.3 L529.2 450.6 L528.7 450.8 L528.2 451.1 L527.7 451.2 L527.1 451.4 L526.5 451.5 L525.9 451.6 L525.3 451.7 L524.6 451.7 L524.0 451.7 L523.3 451.7 L522.7 451.6 L522.0 451.5 L521.4 451.4 L520.8 451.2 L520.2 451.0 L519.6 450.8 L519.1 450.5 L518.6 450.2 L518.1 449.9 L517.7 449.6 L517.4 449.2 L517.0 448.9 L516.8 448.5 L516.5 448.1 L516.4 447.7 L516.3 447.3 L516.2 446.9 L516.2 446.5 L516.3 446.2 L516.4 445.8 L516.6 445.4 L516.8 445.1 L517.1 444.7 L517.4 444.4 L517.8 444.1 L518.2 443.8 L518.7 443.6 L519.2 443.3 L519.7 443.2 L520.3 443.0 L520.9 442.9 L521.5 442.8 L522.1 442.7 L522.8 442.7 L523.4 442.7 L524.1 442.7 L524.7 442.8 L525.4 442.9 L526.0 443.0 L526.6 443.2 L527.2 443.4 L527.8 443.6 L528.3 443.9 L528.8 444.2 L529.3 444.5 L529.7 444.8 L530.0 445.2 L530.4 445.5 L530.6 445.9 L530.9 446.3 L531.0 446.7 L531.1 447.1 L531.2 447.5 L531.2 447.9 Z" fill="none" stroke="#000" stroke-width="2.16" />
<path d="M529.2 448.8 L529.1 449.0 L529.1 449.2 L529.0 449.4 L528.8 449.6 L528.6 449.8 L528.4 450.0 L528.2 450.1 L527.9 450.3 L527.6 450.4 L527.2 450.5 L526.9 450.6 L526.5 450.7 L526.1 450.8 L525.7 450.8 L525.3 450.8 L524.9 450.8 L524.4 450.8 L524.0 450.8 L523.6 450.7 L523.1 450.7 L522.7 450.6 L522.3 450.5 L521.9 450.4 L521.5 450.3 L521.2 450.1 L520.8 450.0 L520.5 449.8 L520.2 449.6 L520.0 449.4 L519.8 449.2 L519.6 449.0 L519.4 448.8 L519.3 448.6 L519.3 448.4 L519.2 448.2 L519.2 448.0 L519.3 447.8 L519.3 447.6 L519.4 447.4 L519.6 447.2 L519.8 447.0 L520.0 446.8 L520.2 446.7 L520.5 446.5 L520.8 446.4 L521.2 446.3 L521.5 446.2 L521.9 446.1 L522.3 446.0 L522.7 446.0 L523.1 446.0 L523.5 446.0 L524.0 446.0 L524.4 446.0 L524.8 446.1 L525.3 446.1 L525.7 446.2 L526.1 446.3 L526.5 446.4 L526.9 446.5 L527.2 446.7 L527.6 446.8 L527.9 447.0 L528.2 447.2 L528.4 447.4 L528.6 447.6 L528.8 447.8 L529.0 448.0 L529.1 448.2 L529.1 448.4 L529.2 448.6 L529.2 448.8 Z" fill="#000" stroke="#000" stroke-width="1.20" />
<path d="M600.5 421.0 C600.1 421.7 598.1 423.7 598.0 425.0 C597.9 426.3 599.0 428.2 600.0 429.0 C601.0 429.8 603.3 429.8 604.0 430.0" fill="none" stroke="#000" stroke-width="2.88"/>
<path d="M397.0 143.0 C398.2 143.7 401.5 145.3 404.0 147.0 C406.5 148.7 409.4 151.2 412.0 153.0 C414.6 154.8 417.9 156.2 419.4 158.0 C420.9 159.8 420.6 162.2 421.0 164.0 C421.4 165.8 421.4 166.9 422.0 169.0 C422.6 171.1 423.1 174.6 424.6 176.8 C426.1 179.0 428.8 180.3 431.0 182.0 C433.2 183.7 436.0 185.0 437.6 187.0 C439.2 189.0 439.9 191.8 440.5 194.0 C441.1 196.2 441.3 199.0 441.5 200.0" fill="none" stroke="#000" stroke-width="2.76"/>
<path d="M397.3 157.0 C398.4 157.5 401.9 158.5 404.0 160.0 C406.1 161.5 408.3 163.7 410.0 166.0 C411.7 168.3 413.5 171.3 414.0 174.0 C414.5 176.7 413.9 179.6 413.0 182.0 C412.1 184.4 410.2 187.5 408.5 188.5 C406.8 189.5 404.4 188.9 402.5 188.0 C400.6 187.1 398.2 183.8 397.3 183.0" fill="none" stroke="#000" stroke-width="4.80"/>
<path d="M397.3 150.5 C398.8 151.1 403.3 152.2 406.0 154.0 C408.7 155.8 411.5 158.3 413.5 161.0 C415.5 163.7 417.2 166.8 418.0 170.0 C418.8 173.2 418.8 176.9 418.0 180.0 C417.2 183.1 414.8 186.7 413.0 188.5 C411.2 190.3 408.0 190.6 407.0 191.0" fill="none" stroke="#000" stroke-width="1.80"/>
<path d="M397.5 163.5 C398.3 164.0 401.1 165.1 402.5 166.5 C403.9 167.9 405.3 169.9 405.8 172.0 C406.3 174.1 406.1 177.0 405.5 179.0 C404.9 181.0 402.6 183.2 402.0 184.0" fill="none" stroke="#000" stroke-width="3.84"/>
<path d="M419.4 158.0 L450.0 147.6" fill="none" stroke="#000" stroke-width="2.76" />
</svg>
</body></html>
